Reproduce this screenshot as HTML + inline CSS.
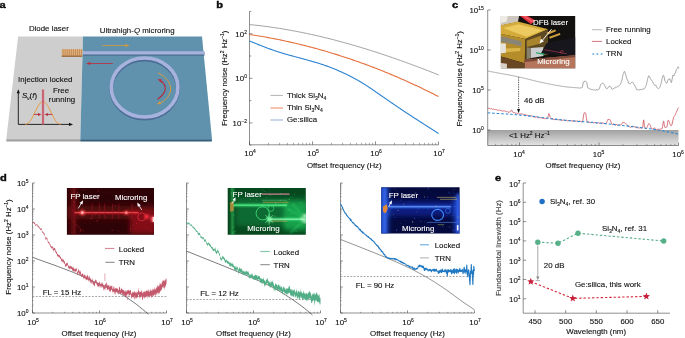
<!DOCTYPE html>
<html><head><meta charset="utf-8"><title>Figure</title>
<style>html,body{margin:0;padding:0;background:#fff;}svg{display:block;}text{font-family:"Liberation Sans",sans-serif;fill:#111;stroke:#111;stroke-width:0.12px;}text.w{fill:#fff;stroke:#fff;}</style>
</head><body>
<svg width="685" height="338" viewBox="0 0 685 338">
<rect width="685" height="338" fill="#fff"/>
<g id="pa">
<polygon points="18.1,36.5 83,36.5 80.3,139.2 6.3,139.2" fill="#cecece"/>
<polygon points="83,36.5 202,36.5 212,139.2 80.3,139.2" fill="#6092ad"/>
<polygon points="6.3,139.2 80.3,139.2 80.3,141.5 6.5,141.5" fill="#9e9e9e"/>
<polygon points="80.3,139.2 212,139.2 211.8,141.5 80.3,141.5" fill="#305e7c"/>
<rect x="83" y="51.8" width="121.5" height="3.8" fill="#44688c"/>
<rect x="83" y="51.2" width="121.5" height="3.3" fill="#a7b3dc"/>
<ellipse cx="144.6" cy="89.1" rx="33.3" ry="29.5" fill="none" stroke="#4c6c96" stroke-width="3.8"/>
<ellipse cx="144.6" cy="87.5" rx="33.3" ry="29.5" fill="none" stroke="#a7b3dc" stroke-width="3.6"/>
<rect x="61.7" y="49.2" width="20.6" height="7.4" fill="#dfae7c"/>
<rect x="62.70" y="49.2" width="0.8" height="6.4" fill="#bf8850"/>
<rect x="64.76" y="49.2" width="0.8" height="6.4" fill="#bf8850"/>
<rect x="66.82" y="49.2" width="0.8" height="6.4" fill="#bf8850"/>
<rect x="68.88" y="49.2" width="0.8" height="6.4" fill="#bf8850"/>
<rect x="70.94" y="49.2" width="0.8" height="6.4" fill="#bf8850"/>
<rect x="73.00" y="49.2" width="0.8" height="6.4" fill="#bf8850"/>
<rect x="75.06" y="49.2" width="0.8" height="6.4" fill="#bf8850"/>
<rect x="77.12" y="49.2" width="0.8" height="6.4" fill="#bf8850"/>
<rect x="79.18" y="49.2" width="0.8" height="6.4" fill="#bf8850"/>
<rect x="81.24" y="49.2" width="0.8" height="6.4" fill="#bf8850"/>
<rect x="61.7" y="55.6" width="20.6" height="1.2" fill="#8f6238"/>
<path d="M102.2 45.5H127" stroke="#d69a3c" stroke-width="0.8" fill="none"/>
<path d="M129.6 45.5l-4.2 -1.5v3z" fill="#d69a3c"/>
<path d="M112.8 63.5H89" stroke="#c22b3b" stroke-width="0.8" fill="none"/>
<path d="M86.2 63.5l4.2 -1.5v3z" fill="#c22b3b"/>
<path d="M158 72.6Q171.5 80 170.6 90Q169.5 98.5 160.5 103" stroke="#d69a3c" stroke-width="1.0" fill="none"/>
<path d="M156.8 104.3l4.4 -0.4l-1.4 -2.6z" fill="#d69a3c"/>
<path d="M157.5 99.2Q166.5 93 165.2 87Q164.2 83 160.4 80.8" stroke="#b8283a" stroke-width="1.1" fill="none"/>
<path d="M157.6 79l4.4 0.6l-1.6 2.6z" fill="#c22b3b"/>
<text transform="translate(28.90,31.30) scale(0.975,1)" font-size="8.1" text-anchor="start" >Diode laser</text>
<text transform="translate(99.70,33.20) scale(0.975,1)" font-size="8.1" text-anchor="start" >Ultrahigh-<tspan font-style="italic">Q</tspan> microring</text>
<text transform="translate(18.10,82.30) scale(0.975,1)" font-size="8.1" text-anchor="start" >Injection locked</text>
<text transform="translate(61.00,93.00) scale(0.975,1)" font-size="8.1" text-anchor="middle" >Free</text>
<text transform="translate(62.00,102.00) scale(0.975,1)" font-size="8.1" text-anchor="middle" >running</text>
<text transform="translate(22.10,98.00) scale(0.975,1)" font-size="8.1" text-anchor="start" ><tspan font-style="italic">S</tspan><tspan dy="1.6" font-size="4.6" font-style="italic">ν</tspan><tspan dy="-1.6">(</tspan><tspan font-style="italic">f</tspan>)</text>
<path d="M18.3 124.4V92M18.3 124.4H70" stroke="#111" stroke-width="0.9" fill="none"/>
<path d="M18.3 89.2l-1.6 4h3.2z" fill="#111"/>
<path d="M73 124.4l-4 -1.7v3.4z" fill="#111"/>
<polyline points="25.20,124.20 25.80,124.17 26.41,124.07 27.01,123.87 27.61,123.57 28.22,123.15 28.82,122.62 29.42,121.99 30.03,121.24 30.63,120.39 31.23,119.45 31.84,118.42 32.44,117.32 33.04,116.15 33.65,114.94 34.25,113.70 34.85,112.45 35.46,111.19 36.06,109.95 36.66,108.74 37.27,107.59 37.87,106.49 38.47,105.48 39.08,104.56 39.68,103.75 40.28,103.06 40.89,102.49 41.49,102.06 42.09,101.77 42.70,101.62 43.30,101.62 43.91,101.77 44.51,102.06 45.11,102.49 45.72,103.06 46.32,103.75 46.92,104.56 47.53,105.48 48.13,106.49 48.73,107.59 49.34,108.74 49.94,109.95 50.54,111.19 51.15,112.45 51.75,113.70 52.35,114.94 52.96,116.15 53.56,117.32 54.16,118.42 54.77,119.45 55.37,120.39 55.97,121.24 56.58,121.99 57.18,122.62 57.78,123.15 58.39,123.57 58.99,123.87 59.59,124.07 60.20,124.17 60.80,124.20" fill="none" stroke="#e8963a" stroke-width="1.0" stroke-linejoin="round" />
<rect x="41.7" y="89.5" width="2.6" height="35" fill="#dd8e9a" opacity="0.7"/>
<rect x="42.5" y="89.5" width="1.0" height="35" fill="#bc2a44"/>
<path d="M34 114.4H39M52.2 114.4H47" stroke="#b42a3c" stroke-width="0.9" fill="none"/>
<path d="M41.4 114.4l-3.4 -1.5v3zM44.5 114.4l3.4 -1.5v3z" fill="#b42a3c"/>
</g>
<g id="pb">
<line x1="249.50" y1="11.40" x2="249.50" y2="144.80" stroke="#444" stroke-width="0.6" />
<line x1="249.50" y1="144.80" x2="438.50" y2="144.80" stroke="#444" stroke-width="0.6" />
<line x1="249.50" y1="144.80" x2="249.50" y2="141.40" stroke="#444" stroke-width="0.6" />
<line x1="268.46" y1="144.80" x2="268.46" y2="142.80" stroke="#444" stroke-width="0.45" />
<line x1="279.56" y1="144.80" x2="279.56" y2="142.80" stroke="#444" stroke-width="0.45" />
<line x1="287.43" y1="144.80" x2="287.43" y2="142.80" stroke="#444" stroke-width="0.45" />
<line x1="293.54" y1="144.80" x2="293.54" y2="142.80" stroke="#444" stroke-width="0.45" />
<line x1="298.52" y1="144.80" x2="298.52" y2="142.80" stroke="#444" stroke-width="0.45" />
<line x1="302.74" y1="144.80" x2="302.74" y2="142.80" stroke="#444" stroke-width="0.45" />
<line x1="306.39" y1="144.80" x2="306.39" y2="142.80" stroke="#444" stroke-width="0.45" />
<line x1="309.62" y1="144.80" x2="309.62" y2="142.80" stroke="#444" stroke-width="0.45" />
<line x1="312.50" y1="144.80" x2="312.50" y2="141.40" stroke="#444" stroke-width="0.6" />
<line x1="331.46" y1="144.80" x2="331.46" y2="142.80" stroke="#444" stroke-width="0.45" />
<line x1="342.56" y1="144.80" x2="342.56" y2="142.80" stroke="#444" stroke-width="0.45" />
<line x1="350.43" y1="144.80" x2="350.43" y2="142.80" stroke="#444" stroke-width="0.45" />
<line x1="356.54" y1="144.80" x2="356.54" y2="142.80" stroke="#444" stroke-width="0.45" />
<line x1="361.52" y1="144.80" x2="361.52" y2="142.80" stroke="#444" stroke-width="0.45" />
<line x1="365.74" y1="144.80" x2="365.74" y2="142.80" stroke="#444" stroke-width="0.45" />
<line x1="369.39" y1="144.80" x2="369.39" y2="142.80" stroke="#444" stroke-width="0.45" />
<line x1="372.62" y1="144.80" x2="372.62" y2="142.80" stroke="#444" stroke-width="0.45" />
<line x1="375.50" y1="144.80" x2="375.50" y2="141.40" stroke="#444" stroke-width="0.6" />
<line x1="394.46" y1="144.80" x2="394.46" y2="142.80" stroke="#444" stroke-width="0.45" />
<line x1="405.56" y1="144.80" x2="405.56" y2="142.80" stroke="#444" stroke-width="0.45" />
<line x1="413.43" y1="144.80" x2="413.43" y2="142.80" stroke="#444" stroke-width="0.45" />
<line x1="419.54" y1="144.80" x2="419.54" y2="142.80" stroke="#444" stroke-width="0.45" />
<line x1="424.52" y1="144.80" x2="424.52" y2="142.80" stroke="#444" stroke-width="0.45" />
<line x1="428.74" y1="144.80" x2="428.74" y2="142.80" stroke="#444" stroke-width="0.45" />
<line x1="432.39" y1="144.80" x2="432.39" y2="142.80" stroke="#444" stroke-width="0.45" />
<line x1="435.62" y1="144.80" x2="435.62" y2="142.80" stroke="#444" stroke-width="0.45" />
<line x1="438.50" y1="144.80" x2="438.50" y2="141.40" stroke="#444" stroke-width="0.6" />
<line x1="249.50" y1="145.20" x2="251.30" y2="145.20" stroke="#444" stroke-width="0.6" />
<line x1="249.50" y1="122.90" x2="252.50" y2="122.90" stroke="#444" stroke-width="0.6" />
<line x1="249.50" y1="100.60" x2="251.30" y2="100.60" stroke="#444" stroke-width="0.6" />
<line x1="249.50" y1="78.30" x2="252.50" y2="78.30" stroke="#444" stroke-width="0.6" />
<line x1="249.50" y1="56.00" x2="251.30" y2="56.00" stroke="#444" stroke-width="0.6" />
<line x1="249.50" y1="33.70" x2="252.50" y2="33.70" stroke="#444" stroke-width="0.6" />
<line x1="249.50" y1="11.40" x2="251.30" y2="11.40" stroke="#444" stroke-width="0.6" />
<text transform="translate(246.90,36.50) scale(0.975,1)" font-size="8.1" text-anchor="end" >10<tspan dy="-3.0" font-size="5.1">2</tspan></text>
<text transform="translate(246.90,81.10) scale(0.975,1)" font-size="8.1" text-anchor="end" >10<tspan dy="-3.0" font-size="5.1">0</tspan></text>
<text transform="translate(246.90,125.70) scale(0.975,1)" font-size="8.1" text-anchor="end" >10<tspan dy="-3.0" font-size="5.1">–2</tspan></text>
<text transform="translate(250.10,155.90) scale(0.975,1)" font-size="8.1" text-anchor="middle" >10<tspan dy="-3.0" font-size="5.1">4</tspan></text>
<text transform="translate(313.10,155.90) scale(0.975,1)" font-size="8.1" text-anchor="middle" >10<tspan dy="-3.0" font-size="5.1">5</tspan></text>
<text transform="translate(376.10,155.90) scale(0.975,1)" font-size="8.1" text-anchor="middle" >10<tspan dy="-3.0" font-size="5.1">6</tspan></text>
<text transform="translate(439.10,155.90) scale(0.975,1)" font-size="8.1" text-anchor="middle" >10<tspan dy="-3.0" font-size="5.1">7</tspan></text>
<text transform="translate(344.30,168.20) scale(0.975,1)" font-size="8.1" text-anchor="middle" >Offset frequency (Hz)</text>
<text transform="translate(226.60,78.30) rotate(-90) scale(0.975,1)" font-size="8.1" text-anchor="middle">Frequency noise (Hz<tspan dy="-3" font-size="5">2</tspan><tspan dy="3"> Hz</tspan><tspan dy="-3" font-size="5">–1</tspan><tspan dy="3">)</tspan></text>
<polyline points="249.50,24.58 251.09,24.73 252.68,24.90 254.26,25.06 255.85,25.23 257.44,25.41 259.03,25.59 260.62,25.78 262.21,25.98 263.79,26.17 265.38,26.38 266.97,26.59 268.56,26.80 270.15,27.02 271.74,27.25 273.32,27.48 274.91,27.71 276.50,27.95 278.09,28.20 279.68,28.45 281.26,28.70 282.85,28.96 284.44,29.23 286.03,29.50 287.62,29.77 289.21,30.05 290.79,30.34 292.38,30.63 293.97,30.93 295.56,31.22 297.15,31.53 298.74,31.84 300.32,32.15 301.91,32.47 303.50,32.80 305.09,33.12 306.68,33.46 308.26,33.79 309.85,34.14 311.44,34.48 313.03,34.83 314.62,35.19 316.21,35.55 317.79,35.91 319.38,36.28 320.97,36.66 322.56,37.04 324.15,37.42 325.74,37.80 327.32,38.20 328.91,38.59 330.50,38.99 332.09,39.40 333.68,39.80 335.26,40.22 336.85,40.63 338.44,41.05 340.03,41.48 341.62,41.91 343.21,42.34 344.79,42.78 346.38,43.22 347.97,43.66 349.56,44.11 351.15,44.57 352.74,45.02 354.32,45.48 355.91,45.95 357.50,46.42 359.09,46.89 360.68,47.37 362.26,47.85 363.85,48.33 365.44,48.82 367.03,49.31 368.62,49.81 370.21,50.31 371.79,50.81 373.38,51.32 374.97,51.82 376.56,52.34 378.15,52.86 379.74,53.38 381.32,53.90 382.91,54.43 384.50,54.96 386.09,55.49 387.68,56.03 389.26,56.57 390.85,57.12 392.44,57.66 394.03,58.22 395.62,58.77 397.21,59.33 398.79,59.89 400.38,60.45 401.97,61.02 403.56,61.59 405.15,62.16 406.74,62.74 408.32,63.32 409.91,63.90 411.50,64.49 413.09,65.08 414.68,65.67 416.26,66.27 417.85,66.86 419.44,67.47 421.03,68.07 422.62,68.68 424.21,69.28 425.79,69.90 427.38,70.51 428.97,71.13 430.56,71.75 432.15,72.37 433.74,73.00 435.32,73.63 436.91,74.26 438.50,74.89" fill="none" stroke="#959595" stroke-width="0.9" stroke-linejoin="round" />
<polyline points="249.50,34.47 251.09,34.71 252.68,34.96 254.26,35.20 255.85,35.46 257.44,35.72 259.03,35.98 260.62,36.25 262.21,36.52 263.79,36.80 265.38,37.08 266.97,37.37 268.56,37.66 270.15,37.95 271.74,38.25 273.32,38.56 274.91,38.87 276.50,39.18 278.09,39.50 279.68,39.83 281.26,40.15 282.85,40.49 284.44,40.83 286.03,41.17 287.62,41.52 289.21,41.87 290.79,42.23 292.38,42.59 293.97,42.95 295.56,43.32 297.15,43.70 298.74,44.08 300.32,44.47 301.91,44.86 303.50,45.25 305.09,45.65 306.68,46.05 308.26,46.46 309.85,46.88 311.44,47.30 313.03,47.72 314.62,48.15 316.21,48.58 317.79,49.02 319.38,49.46 320.97,49.91 322.56,50.36 324.15,50.82 325.74,51.28 327.32,51.74 328.91,52.22 330.50,52.69 332.09,53.17 333.68,53.66 335.26,54.15 336.85,54.64 338.44,55.14 340.03,55.65 341.62,56.16 343.21,56.67 344.79,57.19 346.38,57.72 347.97,58.25 349.56,58.78 351.15,59.32 352.74,59.86 354.32,60.41 355.91,60.96 357.50,61.52 359.09,62.08 360.68,62.65 362.26,63.22 363.85,63.80 365.44,64.38 367.03,64.97 368.62,65.56 370.21,66.16 371.79,66.76 373.38,67.37 374.97,67.98 376.56,68.60 378.15,69.22 379.74,69.85 381.32,70.48 382.91,71.11 384.50,71.76 386.09,72.40 387.68,73.05 389.26,73.71 390.85,74.37 392.44,75.04 394.03,75.71 395.62,76.38 397.21,77.06 398.79,77.75 400.38,78.44 401.97,79.14 403.56,79.84 405.15,80.54 406.74,81.25 408.32,81.97 409.91,82.69 411.50,83.41 413.09,84.14 414.68,84.88 416.26,85.62 417.85,86.36 419.44,87.12 421.03,87.87 422.62,88.63 424.21,89.40 425.79,90.17 427.38,90.94 428.97,91.72 430.56,92.51 432.15,93.30 433.74,94.09 435.32,94.89 436.91,95.70 438.50,96.51" fill="none" stroke="#e4703c" stroke-width="1.1" stroke-linejoin="round" />
<polyline points="249.50,40.99 250.13,41.26 250.76,41.52 251.39,41.79 252.02,42.05 252.65,42.31 253.28,42.57 253.91,42.83 254.54,43.09 255.17,43.35 255.80,43.61 256.43,43.86 257.06,44.11 257.69,44.36 258.32,44.62 258.95,44.87 259.58,45.11 260.21,45.36 260.84,45.61 261.47,45.85 262.10,46.09 262.73,46.34 263.36,46.58 263.99,46.82 264.62,47.05 265.25,47.29 265.88,47.53 266.51,47.76 267.14,48.00 267.77,48.23 268.40,48.46 269.03,48.69 269.66,48.91 270.29,49.14 270.92,49.37 271.55,49.59 272.18,49.81 272.81,50.03 273.44,50.25 274.07,50.47 274.70,50.69 275.33,50.90 275.96,51.11 276.59,51.32 277.22,51.53 277.85,51.74 278.48,51.94 279.11,52.14 279.74,52.34 280.37,52.54 281.00,52.74 281.63,52.93 282.26,53.12 282.89,53.31 283.52,53.50 284.15,53.69 284.78,53.87 285.41,54.06 286.04,54.24 286.67,54.42 287.30,54.59 287.93,54.77 288.56,54.95 289.19,55.12 289.82,55.29 290.45,55.46 291.08,55.64 291.71,55.81 292.34,55.98 292.97,56.15 293.60,56.32 294.23,56.49 294.86,56.66 295.49,56.82 296.12,56.99 296.75,57.16 297.38,57.33 298.01,57.50 298.64,57.67 299.27,57.84 299.90,58.01 300.53,58.19 301.16,58.36 301.79,58.53 302.42,58.70 303.05,58.87 303.68,59.04 304.31,59.22 304.94,59.39 305.57,59.56 306.20,59.74 306.83,59.91 307.46,60.08 308.09,60.26 308.72,60.43 309.35,60.61 309.98,60.79 310.61,60.96 311.24,61.14 311.87,61.32 312.50,61.49 313.13,61.67 313.76,61.85 314.39,62.03 315.02,62.22 315.65,62.40 316.28,62.58 316.91,62.77 317.54,62.96 318.17,63.15 318.80,63.35 319.43,63.54 320.06,63.74 320.69,63.94 321.32,64.15 321.95,64.36 322.58,64.57 323.21,64.78 323.84,65.00 324.47,65.22 325.10,65.44 325.73,65.66 326.36,65.89 326.99,66.12 327.62,66.35 328.25,66.59 328.88,66.83 329.51,67.07 330.14,67.31 330.77,67.55 331.40,67.80 332.03,68.05 332.66,68.30 333.29,68.55 333.92,68.80 334.55,69.06 335.18,69.32 335.81,69.58 336.44,69.85 337.07,70.11 337.70,70.38 338.33,70.65 338.96,70.92 339.59,71.19 340.22,71.47 340.85,71.75 341.48,72.03 342.11,72.31 342.74,72.60 343.37,72.89 344.00,73.18 344.63,73.47 345.26,73.77 345.89,74.07 346.52,74.37 347.15,74.67 347.78,74.98 348.41,75.29 349.04,75.61 349.67,75.92 350.30,76.24 350.93,76.57 351.56,76.89 352.19,77.22 352.82,77.56 353.45,77.89 354.08,78.24 354.71,78.58 355.34,78.93 355.97,79.28 356.60,79.63 357.23,79.99 357.86,80.35 358.49,80.71 359.12,81.07 359.75,81.44 360.38,81.81 361.01,82.19 361.64,82.57 362.27,82.95 362.90,83.33 363.53,83.72 364.16,84.11 364.79,84.51 365.42,84.91 366.05,85.31 366.68,85.71 367.31,86.12 367.94,86.54 368.57,86.95 369.20,87.37 369.83,87.79 370.46,88.22 371.09,88.64 371.72,89.07 372.35,89.51 372.98,89.94 373.61,90.37 374.24,90.81 374.87,91.25 375.50,91.68 376.13,92.12 376.76,92.56 377.39,92.99 378.02,93.43 378.65,93.87 379.28,94.30 379.91,94.74 380.54,95.18 381.17,95.61 381.80,96.05 382.43,96.49 383.06,96.92 383.69,97.36 384.32,97.79 384.95,98.23 385.58,98.66 386.21,99.10 386.84,99.53 387.47,99.97 388.10,100.40 388.73,100.83 389.36,101.27 389.99,101.70 390.62,102.13 391.25,102.56 391.88,103.00 392.51,103.43 393.14,103.86 393.77,104.29 394.40,104.72 395.03,105.15 395.66,105.58 396.29,106.01 396.92,106.44 397.55,106.87 398.18,107.29 398.81,107.72 399.44,108.15 400.07,108.57 400.70,109.00 401.33,109.42 401.96,109.84 402.59,110.26 403.22,110.68 403.85,111.10 404.48,111.52 405.11,111.94 405.74,112.36 406.37,112.77 407.00,113.19 407.63,113.60 408.26,114.01 408.89,114.42 409.52,114.84 410.15,115.25 410.78,115.66 411.41,116.07 412.04,116.48 412.67,116.88 413.30,117.29 413.93,117.70 414.56,118.11 415.19,118.52 415.82,118.92 416.45,119.33 417.08,119.74 417.71,120.14 418.34,120.55 418.97,120.96 419.60,121.36 420.23,121.77 420.86,122.17 421.49,122.58 422.12,122.98 422.75,123.39 423.38,123.79 424.01,124.20 424.64,124.60 425.27,125.01 425.90,125.41 426.53,125.82 427.16,126.22 427.79,126.62 428.42,127.03 429.05,127.43 429.68,127.83 430.31,128.24 430.94,128.64 431.57,129.04 432.20,129.45 432.83,129.85 433.46,130.25 434.09,130.65 434.72,131.06 435.35,131.46 435.98,131.86 436.61,132.26 437.24,132.67 437.87,133.07 438.50,133.47" fill="none" stroke="#2b82d0" stroke-width="1.1" stroke-linejoin="round" />
<line x1="270.50" y1="95.40" x2="283.00" y2="95.40" stroke="#9a9a9a" stroke-width="0.75" />
<text transform="translate(286.90,97.60) scale(0.975,1)" font-size="8.1" text-anchor="start" >Thick Si<tspan dy="2" font-size="5.2">3</tspan><tspan dy="-2">N</tspan><tspan dy="2" font-size="5.2">4</tspan></text>
<line x1="270.50" y1="108.00" x2="283.00" y2="108.00" stroke="#f2ab8c" stroke-width="1.4" />
<text transform="translate(286.90,110.00) scale(0.975,1)" font-size="8.1" text-anchor="start" >Thin Si<tspan dy="2" font-size="5.2">3</tspan><tspan dy="-2">N</tspan><tspan dy="2" font-size="5.2">4</tspan></text>
<line x1="270.50" y1="120.00" x2="283.00" y2="120.00" stroke="#b4c6de" stroke-width="1.4" />
<text transform="translate(286.90,122.30) scale(0.975,1)" font-size="8.1" text-anchor="start" >Ge:silica</text>
</g>
<g id="pc">
<defs><linearGradient id="gb" x1="0" y1="0" x2="0" y2="1"><stop offset="0" stop-color="#a0a0a0"/><stop offset="1" stop-color="#e4e4e4"/></linearGradient></defs>
<rect x="487.7" y="130" width="190.80" height="15.50" fill="url(#gb)"/>
<line x1="487.70" y1="10.00" x2="487.70" y2="145.50" stroke="#444" stroke-width="0.6" />
<line x1="487.70" y1="145.50" x2="678.50" y2="145.50" stroke="#444" stroke-width="0.6" />
<line x1="487.70" y1="10.00" x2="490.70" y2="10.00" stroke="#444" stroke-width="0.6" />
<text transform="translate(483.70,12.80) scale(0.975,1)" font-size="8.1" text-anchor="end" >10<tspan dy="-3.0" font-size="5.1">15</tspan></text>
<line x1="487.70" y1="50.00" x2="490.70" y2="50.00" stroke="#444" stroke-width="0.6" />
<text transform="translate(483.70,52.80) scale(0.975,1)" font-size="8.1" text-anchor="end" >10<tspan dy="-3.0" font-size="5.1">10</tspan></text>
<line x1="487.70" y1="90.00" x2="490.70" y2="90.00" stroke="#444" stroke-width="0.6" />
<text transform="translate(483.70,92.80) scale(0.975,1)" font-size="8.1" text-anchor="end" >10<tspan dy="-3.0" font-size="5.1">5</tspan></text>
<line x1="487.70" y1="130.00" x2="490.70" y2="130.00" stroke="#444" stroke-width="0.6" />
<text transform="translate(483.70,132.80) scale(0.975,1)" font-size="8.1" text-anchor="end" >10<tspan dy="-3.0" font-size="5.1">0</tspan></text>
<line x1="519.50" y1="145.50" x2="519.50" y2="142.50" stroke="#444" stroke-width="0.6" />
<text transform="translate(519.10,156.60) scale(0.975,1)" font-size="8.1" text-anchor="middle" >10<tspan dy="-3.0" font-size="5.1">4</tspan></text>
<line x1="599.00" y1="145.50" x2="599.00" y2="142.50" stroke="#444" stroke-width="0.6" />
<text transform="translate(598.60,156.60) scale(0.975,1)" font-size="8.1" text-anchor="middle" >10<tspan dy="-3.0" font-size="5.1">5</tspan></text>
<line x1="678.50" y1="145.50" x2="678.50" y2="142.50" stroke="#444" stroke-width="0.6" />
<text transform="translate(678.10,156.60) scale(0.975,1)" font-size="8.1" text-anchor="middle" >10<tspan dy="-3.0" font-size="5.1">6</tspan></text>
<line x1="495.57" y1="145.50" x2="495.57" y2="143.90" stroke="#444" stroke-width="0.45" />
<line x1="501.86" y1="145.50" x2="501.86" y2="143.90" stroke="#444" stroke-width="0.45" />
<line x1="507.19" y1="145.50" x2="507.19" y2="143.90" stroke="#444" stroke-width="0.45" />
<line x1="511.80" y1="145.50" x2="511.80" y2="143.90" stroke="#444" stroke-width="0.45" />
<line x1="515.86" y1="145.50" x2="515.86" y2="143.90" stroke="#444" stroke-width="0.45" />
<line x1="543.43" y1="145.50" x2="543.43" y2="143.90" stroke="#444" stroke-width="0.45" />
<line x1="557.43" y1="145.50" x2="557.43" y2="143.90" stroke="#444" stroke-width="0.45" />
<line x1="567.36" y1="145.50" x2="567.36" y2="143.90" stroke="#444" stroke-width="0.45" />
<line x1="575.07" y1="145.50" x2="575.07" y2="143.90" stroke="#444" stroke-width="0.45" />
<line x1="581.36" y1="145.50" x2="581.36" y2="143.90" stroke="#444" stroke-width="0.45" />
<line x1="586.69" y1="145.50" x2="586.69" y2="143.90" stroke="#444" stroke-width="0.45" />
<line x1="591.30" y1="145.50" x2="591.30" y2="143.90" stroke="#444" stroke-width="0.45" />
<line x1="595.36" y1="145.50" x2="595.36" y2="143.90" stroke="#444" stroke-width="0.45" />
<line x1="622.93" y1="145.50" x2="622.93" y2="143.90" stroke="#444" stroke-width="0.45" />
<line x1="636.93" y1="145.50" x2="636.93" y2="143.90" stroke="#444" stroke-width="0.45" />
<line x1="646.86" y1="145.50" x2="646.86" y2="143.90" stroke="#444" stroke-width="0.45" />
<line x1="654.57" y1="145.50" x2="654.57" y2="143.90" stroke="#444" stroke-width="0.45" />
<line x1="660.86" y1="145.50" x2="660.86" y2="143.90" stroke="#444" stroke-width="0.45" />
<line x1="666.19" y1="145.50" x2="666.19" y2="143.90" stroke="#444" stroke-width="0.45" />
<line x1="670.80" y1="145.50" x2="670.80" y2="143.90" stroke="#444" stroke-width="0.45" />
<line x1="674.86" y1="145.50" x2="674.86" y2="143.90" stroke="#444" stroke-width="0.45" />
<text transform="translate(583.00,168.20) scale(0.975,1)" font-size="8.1" text-anchor="middle" >Offset frequency (Hz)</text>
<text transform="translate(462.00,78.80) rotate(-90) scale(0.975,1)" font-size="8.1" text-anchor="middle">Frequency noise (Hz<tspan dy="-3" font-size="5">2</tspan><tspan dy="3"> Hz</tspan><tspan dy="-3" font-size="5">–1</tspan><tspan dy="3">)</tspan></text>
<text transform="translate(529.40,138.30) scale(0.975,1)" font-size="8.1" text-anchor="middle" >&lt;1 Hz<tspan dy="-3" font-size="5">2</tspan><tspan dy="3"> Hz</tspan><tspan dy="-3" font-size="5">–1</tspan></text>
<polyline points="487.70,71.05 487.91,71.10 488.13,71.14 488.34,71.18 488.55,71.22 488.76,71.26 488.98,71.30 489.19,71.34 489.40,71.37 489.61,71.41 489.83,71.45 490.04,71.49 490.25,71.53 490.46,71.57 490.68,71.61 490.89,71.65 491.10,71.69 491.31,71.73 491.53,71.77 491.74,71.81 491.95,71.85 492.16,71.89 492.38,71.93 492.59,71.97 492.80,72.00 493.01,72.04 493.23,72.08 493.44,72.12 493.65,72.16 493.86,72.20 494.08,72.24 494.29,72.28 494.50,72.32 494.71,72.35 494.93,72.39 495.14,72.43 495.35,72.47 495.56,72.51 495.78,72.55 495.99,72.59 496.20,72.63 496.41,72.66 496.63,72.70 496.84,72.74 497.05,72.78 497.26,72.82 497.48,72.86 497.69,72.90 497.90,72.93 498.11,72.97 498.33,73.01 498.54,73.05 498.75,73.09 498.96,73.13 499.18,73.17 499.39,73.21 499.60,73.24 499.81,73.28 500.03,73.32 500.24,73.36 500.45,73.40 500.66,73.44 500.88,73.48 501.09,73.51 501.30,73.55 501.51,73.59 501.73,73.63 501.94,73.67 502.15,73.71 502.36,73.75 502.58,73.79 502.79,73.83 503.00,73.86 503.21,73.90 503.43,73.94 503.64,73.98 503.85,74.02 504.06,74.06 504.28,74.10 504.49,74.14 504.70,74.18 504.91,74.22 505.13,74.26 505.34,74.29 505.55,74.33 505.76,74.37 505.98,74.41 506.19,74.45 506.40,74.49 506.61,74.53 506.83,74.57 507.04,74.61 507.25,74.65 507.46,74.69 507.68,74.73 507.89,74.77 508.10,74.81 508.31,74.85 508.53,74.89 508.74,74.93 508.95,74.97 509.16,75.01 509.38,75.05 509.59,75.09 509.80,75.13 510.01,75.17 510.23,75.22 510.44,75.26 510.65,75.30 510.86,75.34 511.08,75.38 511.29,75.42 511.50,75.46 511.71,75.50 511.93,75.54 512.14,75.59 512.35,75.63 512.56,75.67 512.78,75.71 512.99,75.75 513.20,75.79 513.41,75.84 513.63,75.88 513.84,75.92 514.05,75.96 514.26,76.01 514.48,76.05 514.69,76.09 514.90,76.13 515.11,76.18 515.33,76.22 515.54,76.26 515.75,76.30 515.96,76.35 516.18,76.39 516.39,76.43 516.60,76.48 516.81,76.52 517.03,76.57 517.24,76.61 517.45,76.65 517.66,76.70 517.88,76.74 518.09,76.79 518.30,76.83 518.51,76.88 518.73,76.92 518.94,76.97 519.15,77.01 519.36,77.06 519.58,77.10 519.79,77.15 520.00,77.20 520.21,77.24 520.43,77.29 520.64,77.34 520.85,77.39 521.06,77.43 521.28,77.48 521.49,77.53 521.70,77.58 521.91,77.63 522.13,77.68 522.34,77.73 522.55,77.78 522.76,77.83 522.98,77.88 523.19,77.93 523.40,77.98 523.61,78.03 523.83,78.08 524.04,78.13 524.25,78.19 524.46,78.24 524.68,78.29 524.89,78.34 525.10,78.39 525.31,78.45 525.53,78.50 525.74,78.55 525.95,78.60 526.16,78.66 526.38,78.71 526.59,78.76 526.80,78.82 527.01,78.87 527.23,78.92 527.44,78.98 527.65,79.03 527.86,79.08 528.08,79.14 528.29,79.19 528.50,79.24 528.71,79.30 528.93,79.35 529.14,79.41 529.35,79.46 529.56,79.51 529.78,79.57 529.99,79.62 530.20,79.68 530.41,79.73 530.63,79.78 530.84,79.84 531.05,79.89 531.26,79.95 531.48,80.00 531.69,80.06 531.90,80.11 532.11,80.16 532.33,80.22 532.54,80.27 532.75,80.32 532.96,80.38 533.18,80.43 533.39,80.49 533.60,80.54 533.81,80.59 534.03,80.65 534.24,80.70 534.45,80.75 534.66,80.81 534.88,80.86 535.09,80.91 535.30,80.96 535.51,81.02 535.73,81.07 535.94,81.12 536.15,81.17 536.36,81.22 536.58,81.28 536.79,81.33 537.00,81.38 537.21,81.43 537.43,81.48 537.64,81.53 537.85,81.58 538.06,81.63 538.28,81.68 538.49,81.73 538.70,81.78 538.91,81.83 539.13,81.88 539.34,81.93 539.55,81.98 539.76,82.03 539.98,82.08 540.19,82.12 540.40,82.17 540.61,82.22 540.83,82.27 541.04,82.31 541.25,82.36 541.46,82.40 541.68,82.45 541.89,82.50 542.10,82.54 542.31,82.59 542.53,82.63 542.74,82.67 542.95,82.72 543.16,82.76 543.38,82.81 543.59,82.85 543.80,82.89 544.01,82.93 544.23,82.98 544.44,83.02 544.65,83.06 544.86,83.11 545.08,83.15 545.29,83.19 545.50,83.24 545.71,83.28 545.93,83.32 546.14,83.36 546.35,83.41 546.56,83.45 546.78,83.49 546.99,83.54 547.20,83.58 547.41,83.62 547.63,83.66 547.84,83.71 548.05,83.75 548.26,83.79 548.48,83.83 548.69,83.88 548.90,83.92 549.11,83.96 549.33,84.00 549.54,84.05 549.75,84.09 549.96,84.13 550.18,84.17 550.39,84.21 550.60,84.26 550.81,84.30 551.03,84.34 551.24,84.38 551.45,84.42 551.66,84.46 551.88,84.50 552.09,84.55 552.30,84.59 552.51,84.63 552.73,84.67 552.94,84.71 553.15,84.75 553.36,84.79 553.58,84.83 553.79,84.87 554.00,84.91 554.21,84.95 554.43,84.99 554.64,85.03 554.85,85.07 555.06,85.11 555.28,85.14 555.49,85.18 555.70,85.22 555.91,85.26 556.13,85.30 556.34,85.34 556.55,85.37 556.76,85.41 556.98,85.45 557.19,85.49 557.40,85.52 557.61,85.56 557.83,85.60 558.04,85.63 558.25,85.67 558.46,85.71 558.68,85.74 558.89,85.78 559.10,85.81 559.31,85.85 559.53,85.88 559.74,85.92 559.95,85.95 560.16,85.98 560.38,86.02 560.59,86.05 560.80,86.09 561.01,86.12 561.23,86.15 561.44,86.18 561.65,86.22 561.86,86.25 562.08,86.28 562.29,86.31 562.50,86.34 562.71,86.37 562.93,86.40 563.14,86.44 563.35,86.47 563.56,86.50 563.78,86.52 563.99,86.55 564.20,86.58 564.41,86.61 564.63,86.64 564.84,86.67 565.05,86.69 565.26,86.72 565.48,86.75 565.69,86.78 565.90,86.80 566.11,86.83 566.33,86.85 566.54,86.88 566.75,86.90 566.96,86.93 567.18,86.95 567.39,86.98 567.60,87.00 567.81,87.02 568.03,87.04 568.24,87.06 568.45,87.09 568.66,87.11 568.88,87.13 569.09,87.15 569.30,87.17 569.51,87.19 569.73,87.21 569.94,87.22 570.15,87.24 570.36,87.26 570.58,87.28 570.79,87.30 571.00,87.31 571.21,87.33 571.43,87.35 571.64,87.37 571.85,87.38 572.06,87.40 572.28,87.42 572.49,87.43 572.70,87.45 572.91,87.46 573.13,87.48 573.34,87.50 573.55,87.51 573.76,87.53 573.98,87.54 574.19,87.56 574.40,87.58 574.61,87.59 574.83,87.61 575.04,87.62 575.25,87.64 575.46,87.66 575.68,87.68 575.89,87.70 576.10,87.71 576.31,87.73 576.53,87.75 576.74,87.77 576.95,87.79 577.16,87.81 577.38,87.83 577.59,87.84 577.80,87.86 578.01,87.87 578.23,87.89 578.44,87.90 578.65,87.91 578.86,87.92 579.08,87.93 579.29,87.95 579.50,88.10 579.71,88.05 579.93,87.96 580.14,87.96 580.35,87.92 580.56,88.02 580.78,87.86 580.99,87.72 581.20,87.72 581.41,87.95 581.63,87.82 581.84,87.70 582.05,87.31 582.26,87.38 582.48,86.77 582.69,85.86 582.90,84.19 583.11,82.94 583.33,82.01 583.54,82.04 583.75,81.77 583.96,81.58 584.18,81.47 584.39,81.62 584.60,81.25 584.81,81.07 585.03,80.87 585.24,81.23 585.45,81.30 585.66,81.21 585.88,81.24 586.09,81.53 586.30,82.00 586.51,82.33 586.73,82.56 586.94,83.34 587.15,84.48 587.36,85.87 587.58,86.93 587.79,87.55 588.00,87.73 588.21,87.77 588.43,88.12 588.64,88.40 588.85,88.55 589.06,88.64 589.28,88.51 589.49,88.89 589.70,89.05 589.91,89.24 590.13,89.31 590.34,89.23 590.55,89.25 590.76,89.13 590.98,89.21 591.19,89.29 591.40,89.42 591.61,89.41 591.83,89.58 592.04,89.72 592.25,89.77 592.46,89.56 592.68,89.56 592.89,89.79 593.10,89.97 593.31,89.77 593.53,89.71 593.74,89.94 593.95,89.90 594.16,89.95 594.38,89.77 594.59,89.91 594.80,89.94 595.01,89.85 595.23,90.01 595.44,90.13 595.65,90.32 595.86,90.20 596.08,89.85 596.29,89.70 596.50,89.59 596.71,90.00 596.93,90.13 597.14,90.22 597.35,89.89 597.56,89.79 597.78,89.82 597.99,89.71 598.20,89.87 598.41,89.63 598.63,89.46 598.84,89.06 599.05,89.06 599.26,88.98 599.48,88.40 599.69,87.66 599.90,86.86 600.12,86.33 600.33,85.73 600.54,85.12 600.75,84.59 600.97,84.32 601.18,84.04 601.39,84.10 601.60,83.87 601.82,83.69 602.03,83.34 602.24,83.16 602.45,83.19 602.67,83.32 602.88,83.26 603.09,83.18 603.30,83.27 603.52,83.63 603.73,84.10 603.94,84.38 604.15,84.65 604.37,84.99 604.58,85.15 604.79,85.61 605.00,85.94 605.22,86.46 605.43,87.07 605.64,87.74 605.85,88.06 606.07,88.16 606.28,88.26 606.49,88.59 606.70,88.58 606.92,88.41 607.13,87.98 607.34,88.19 607.55,88.10 607.77,88.20 607.98,87.81 608.19,87.65 608.40,87.35 608.62,86.95 608.83,86.65 609.04,86.35 609.25,86.36 609.47,86.10 609.68,86.04 609.89,86.09 610.10,86.51 610.32,86.83 610.53,86.94 610.74,87.06 610.95,87.26 611.17,87.81 611.38,88.21 611.59,88.73 611.80,88.85 612.02,88.92 612.23,89.01 612.44,89.16 612.65,89.26 612.87,89.06 613.08,88.92 613.29,88.72 613.50,88.71 613.72,88.38 613.93,88.19 614.14,88.05 614.35,88.04 614.57,88.25 614.78,88.04 614.99,87.89 615.20,87.43 615.42,87.15 615.63,86.85 615.84,86.94 616.05,86.93 616.27,87.17 616.48,87.19 616.69,87.20 616.90,87.16 617.12,86.92 617.33,86.97 617.54,86.64 617.75,86.61 617.97,86.26 618.18,86.24 618.39,85.97 618.60,85.94 618.82,85.82 619.03,85.76 619.24,85.61 619.45,85.46 619.67,85.35 619.88,85.00 620.09,84.74 620.30,84.40 620.52,84.06 620.73,83.55 620.94,82.77 621.15,82.43 621.37,81.72 621.58,81.20 621.79,80.50 622.00,79.80 622.22,78.98 622.43,77.70 622.64,76.58 622.85,75.34 623.07,74.57 623.28,74.08 623.49,73.61 623.70,73.10 623.92,72.30 624.13,71.74 624.34,71.33 624.55,71.50 624.77,71.92 624.98,72.46 625.19,73.11 625.40,73.75 625.62,74.44 625.83,75.14 626.04,75.74 626.25,76.46 626.47,77.21 626.68,78.00 626.89,78.73 627.10,79.07 627.32,79.82 627.53,80.03 627.74,80.54 627.95,80.76 628.17,81.77 628.38,82.48 628.59,83.06 628.80,83.14 629.02,83.50 629.23,83.80 629.44,84.03 629.65,83.84 629.87,83.63 630.08,83.60 630.29,83.62 630.50,83.53 630.72,83.26 630.93,82.81 631.14,82.63 631.35,82.39 631.57,82.46 631.78,82.37 631.99,82.29 632.20,82.07 632.42,82.08 632.63,82.24 632.84,82.48 633.05,82.34 633.27,82.69 633.48,83.27 633.69,84.15 633.90,84.41 634.12,84.60 634.33,84.76 634.54,85.29 634.75,85.58 634.97,85.99 635.18,86.16 635.39,86.75 635.60,87.10 635.82,87.81 636.03,88.28 636.24,88.94 636.45,89.37 636.67,89.81 636.88,89.71 637.09,89.76 637.30,89.69 637.52,89.86 637.73,89.90 637.94,89.86 638.15,90.05 638.37,89.81 638.58,89.69 638.79,89.68 639.00,90.00 639.22,90.18 639.43,90.14 639.64,89.83 639.85,89.59 640.07,89.44 640.28,89.66 640.49,89.58 640.70,89.52 640.92,89.10 641.13,89.30 641.34,89.43 641.55,89.47 641.77,89.37 641.98,89.38 642.19,89.48 642.40,89.33 642.62,88.98 642.83,88.70 643.04,88.89 643.25,88.90 643.47,89.20 643.68,89.15 643.89,89.10 644.10,88.85 644.32,88.71 644.53,88.59 644.74,88.41 644.95,87.81 645.17,87.54 645.38,87.04 645.59,86.51 645.80,85.78 646.02,85.29 646.23,85.11 646.44,84.41 646.65,83.41 646.87,82.47 647.08,81.53 647.29,80.67 647.50,79.43 647.72,78.55 647.93,77.97 648.14,77.29 648.35,76.66 648.57,75.90 648.78,75.83 648.99,75.83 649.20,76.18 649.42,76.40 649.63,76.96 649.84,77.28 650.05,77.79 650.27,78.35 650.48,78.87 650.69,79.12 650.90,79.20 651.12,79.60 651.33,79.97 651.54,80.34 651.75,80.51 651.97,80.54 652.18,80.85 652.39,81.13 652.60,81.65 652.82,82.05 653.03,82.66 653.24,83.23 653.45,83.62 653.67,84.09 653.88,84.42 654.09,84.85 654.30,84.91 654.52,85.25 654.73,85.38 654.94,85.46 655.15,85.25 655.37,85.07 655.58,85.07 655.79,85.20 656.00,85.63 656.22,86.09 656.43,86.57 656.64,87.03 656.85,87.33 657.07,87.59 657.28,87.85 657.49,88.08 657.70,88.27 657.92,88.16 658.13,88.32 658.34,88.47 658.55,88.67 658.77,88.49 658.98,88.21 659.19,87.96 659.40,87.76 659.62,87.55 659.83,87.24 660.04,86.74 660.25,86.24 660.47,85.63 660.68,84.89 660.89,84.20 661.10,83.46 661.32,82.71 661.53,81.59 661.74,80.46 661.95,79.26 662.17,78.52 662.38,77.52 662.59,76.79 662.80,75.90 663.02,75.65 663.23,75.36 663.44,75.31 663.65,75.46 663.87,76.05 664.08,76.97 664.29,77.93 664.50,78.97 664.72,80.00 664.93,80.75 665.14,81.26 665.35,81.48 665.57,81.74 665.78,82.06 665.99,82.59 666.20,83.02 666.42,83.30 666.63,83.19 666.84,82.93 667.05,82.52 667.27,82.27 667.48,81.46 667.69,80.53 667.90,79.77 668.12,79.52 668.33,79.50 668.54,79.53 668.75,79.64 668.97,79.74 669.18,79.56 669.39,79.15 669.60,78.84 669.82,78.77 670.03,79.48 670.24,80.31 670.45,81.07 670.67,81.43 670.88,81.80 671.09,82.24 671.30,82.67 671.52,82.23 671.73,81.27 671.94,79.81 672.15,78.98 672.37,77.92 672.58,76.68 672.79,75.43 673.00,75.04 673.22,75.19 673.43,75.54 673.64,75.81 673.85,76.05 674.07,75.54 674.28,74.64 674.49,73.68 674.70,73.45 674.92,73.41 675.13,73.35 675.34,73.06 675.55,72.73 675.77,71.85 675.98,70.93 676.19,69.97 676.40,69.77 676.62,69.47 676.83,69.28 677.04,68.79 677.25,68.49 677.47,67.97 677.68,67.40 677.89,67.00 678.10,66.71 678.32,66.93 678.53,67.74 678.74,68.51" fill="none" stroke="#858585" stroke-width="0.75" stroke-linejoin="round" />
<polyline points="487.70,108.05 487.94,108.01 488.18,108.08 488.42,108.27 488.66,108.49 488.89,108.61 489.13,108.53 489.37,108.31 489.61,108.32 489.85,108.57 490.09,108.91 490.33,108.90 490.57,108.86 490.80,108.73 491.04,108.79 491.28,108.59 491.52,108.64 491.76,108.70 492.00,108.87 492.24,109.04 492.48,109.28 492.71,109.50 492.95,109.41 493.19,109.15 493.43,108.96 493.67,108.93 493.91,109.06 494.15,109.22 494.39,109.40 494.63,109.46 494.86,109.47 495.10,109.48 495.34,109.41 495.58,109.63 495.82,109.81 496.06,109.83 496.30,109.57 496.54,109.42 496.77,109.57 497.01,109.86 497.25,110.09 497.49,110.26 497.73,110.28 497.97,110.33 498.21,110.33 498.45,110.30 498.68,110.20 498.92,109.95 499.16,109.92 499.40,110.19 499.64,110.37 499.88,110.35 500.12,110.30 500.36,110.42 500.60,110.48 500.83,110.58 501.07,110.69 501.31,110.87 501.55,110.67 501.79,110.69 502.03,110.69 502.27,110.89 502.51,111.01 502.74,111.13 502.98,111.11 503.22,111.09 503.46,110.87 503.70,110.97 503.94,111.01 504.18,111.14 504.42,111.01 504.65,110.97 504.89,110.91 505.13,111.09 505.37,111.17 505.61,111.24 505.85,111.25 506.09,111.38 506.33,111.66 506.57,111.81 506.80,111.71 507.04,111.59 507.28,111.47 507.52,111.60 507.76,111.95 508.00,112.20 508.24,112.36 508.48,112.29 508.71,111.98 508.95,111.81 509.19,111.64 509.43,112.00 509.67,112.24 509.91,112.18 510.15,111.94 510.39,111.61 510.62,111.31 510.86,110.82 511.10,110.27 511.34,110.14 511.58,110.05 511.82,110.47 512.06,110.79 512.30,111.49 512.54,112.02 512.77,112.30 513.01,112.38 513.25,112.41 513.49,112.46 513.73,112.54 513.97,112.53 514.21,112.71 514.45,112.70 514.68,112.71 514.92,112.80 515.16,113.14 515.40,113.00 515.64,113.13 515.88,113.12 516.12,113.26 516.36,112.98 516.59,112.97 516.83,113.09 517.07,113.32 517.31,113.42 517.55,113.46 517.79,113.51 518.03,113.51 518.27,113.70 518.51,113.93 518.74,114.11 518.98,114.08 519.22,113.89 519.46,114.01 519.70,114.11 519.94,114.23 520.18,113.87 520.42,113.93 520.65,113.84 520.89,113.96 521.13,113.76 521.37,113.83 521.61,113.94 521.85,113.97 522.09,113.97 522.33,114.00 522.56,114.08 522.80,114.08 523.04,114.04 523.28,114.08 523.52,114.34 523.76,114.37 524.00,114.67 524.24,114.76 524.47,114.78 524.71,114.75 524.95,114.63 525.19,114.69 525.43,114.69 525.67,114.77 525.91,115.04 526.15,115.24 526.39,115.19 526.62,115.11 526.86,115.11 527.10,115.42 527.34,115.23 527.58,115.37 527.82,115.26 528.06,115.77 528.30,115.63 528.53,115.60 528.77,115.48 529.01,115.71 529.25,115.86 529.49,115.63 529.73,115.62 529.97,115.48 530.21,115.69 530.44,115.53 530.68,115.55 530.92,115.57 531.16,115.63 531.40,115.83 531.64,116.01 531.88,116.14 532.12,116.08 532.36,116.12 532.59,116.32 532.83,116.65 533.07,116.73 533.31,116.74 533.55,116.78 533.79,116.97 534.03,117.14 534.27,117.05 534.50,116.90 534.74,116.92 534.98,117.19 535.22,117.44 535.46,117.04 535.70,116.88 535.94,116.36 536.18,116.77 536.41,116.84 536.65,117.27 536.89,117.21 537.13,117.40 537.37,117.40 537.61,117.58 537.85,117.53 538.09,117.65 538.33,117.62 538.56,117.61 538.80,117.48 539.04,117.55 539.28,117.66 539.52,117.81 539.76,117.85 540.00,117.91 540.24,117.81 540.47,117.75 540.71,117.62 540.95,117.70 541.19,117.79 541.43,117.78 541.67,117.87 541.91,117.89 542.15,118.06 542.38,118.18 542.62,118.45 542.86,118.38 543.10,118.40 543.34,118.03 543.58,118.17 543.82,118.31 544.06,118.62 544.30,118.52 544.53,118.38 544.77,118.41 545.01,118.50 545.25,118.67 545.49,118.44 545.73,118.64 545.97,118.67 546.21,118.86 546.44,118.63 546.68,118.49 546.92,118.41 547.16,118.43 547.40,118.23 547.64,117.80 547.88,117.21 548.12,116.59 548.35,115.45 548.59,114.40 548.83,113.51 549.07,113.74 549.31,114.16 549.55,115.07 549.79,115.91 550.03,116.81 550.27,117.30 550.50,117.83 550.74,118.28 550.98,118.69 551.22,118.79 551.46,118.98 551.70,118.86 551.94,119.15 552.18,118.76 552.41,118.90 552.65,118.64 552.89,119.12 553.13,119.04 553.37,119.42 553.61,119.17 553.85,119.60 554.09,119.46 554.32,119.67 554.56,119.51 554.80,119.73 555.04,119.86 555.28,119.57 555.52,119.47 555.76,119.42 556.00,119.51 556.24,119.48 556.47,119.34 556.71,119.57 556.95,119.53 557.19,119.62 557.43,119.69 557.67,119.57 557.91,119.69 558.15,119.57 558.38,119.69 558.62,119.91 558.86,120.01 559.10,119.93 559.34,119.71 559.58,119.63 559.82,119.78 560.06,119.83 560.29,119.95 560.53,119.98 560.77,119.92 561.01,119.98 561.25,120.11 561.49,120.12 561.73,120.08 561.97,119.99 562.21,120.23 562.44,120.38 562.68,120.31 562.92,120.19 563.16,119.91 563.40,119.90 563.64,119.92 563.88,120.18 564.12,120.43 564.35,120.41 564.59,120.20 564.83,120.15 565.07,120.19 565.31,120.41 565.55,120.41 565.79,120.53 566.03,120.58 566.26,120.67 566.50,120.56 566.74,120.62 566.98,120.48 567.22,120.56 567.46,120.68 567.70,120.80 567.94,120.67 568.18,120.65 568.41,120.74 568.65,121.03 568.89,120.90 569.13,120.84 569.37,120.70 569.61,120.62 569.85,120.77 570.09,120.78 570.32,120.82 570.56,120.61 570.80,120.89 571.04,121.07 571.28,121.10 571.52,120.89 571.76,120.87 572.00,121.03 572.23,120.87 572.47,120.93 572.71,120.83 572.95,120.95 573.19,120.82 573.43,120.96 573.67,121.26 573.91,121.34 574.15,121.34 574.38,121.06 574.62,121.12 574.86,121.17 575.10,121.11 575.34,121.01 575.58,121.02 575.82,121.01 576.06,121.05 576.29,121.04 576.53,121.07 576.77,121.09 577.01,121.05 577.25,121.37 577.49,121.28 577.73,121.43 577.97,121.38 578.20,121.69 578.44,121.71 578.68,121.74 578.92,121.67 579.16,121.35 579.40,121.18 579.64,121.02 579.88,121.21 580.12,121.49 580.35,121.42 580.59,121.45 580.83,121.20 581.07,121.25 581.31,121.48 581.55,121.67 581.79,122.06 582.03,122.03 582.26,121.86 582.50,121.21 582.74,120.71 582.98,119.66 583.22,118.16 583.46,116.24 583.70,114.74 583.94,113.65 584.17,112.87 584.41,112.60 584.65,112.63 584.89,112.77 585.13,112.75 585.37,112.86 585.61,113.27 585.85,114.22 586.08,115.73 586.32,117.35 586.56,119.07 586.80,120.29 587.04,121.47 587.28,121.81 587.52,122.16 587.76,121.94 588.00,122.17 588.23,122.26 588.47,122.19 588.71,122.14 588.95,121.87 589.19,122.25 589.43,122.24 589.67,122.28 589.91,122.05 590.14,122.28 590.38,122.65 590.62,122.90 590.86,122.68 591.10,122.51 591.34,122.57 591.58,122.59 591.82,122.59 592.05,122.31 592.29,122.28 592.53,122.48 592.77,122.68 593.01,122.89 593.25,122.83 593.49,122.90 593.73,123.04 593.97,122.99 594.20,122.85 594.44,122.57 594.68,122.72 594.92,122.72 595.16,122.68 595.40,122.55 595.64,122.63 595.88,122.92 596.11,123.09 596.35,123.02 596.59,122.85 596.83,122.71 597.07,122.68 597.31,122.78 597.55,122.89 597.79,123.05 598.02,122.90 598.26,122.73 598.50,122.89 598.74,122.98 598.98,123.23 599.22,123.17 599.46,123.27 599.70,123.09 599.94,123.06 600.17,123.01 600.41,123.13 600.65,123.14 600.89,123.18 601.13,123.19 601.37,123.17 601.61,123.13 601.85,123.15 602.08,123.14 602.32,123.09 602.56,123.09 602.80,123.16 603.04,123.32 603.28,123.14 603.52,123.29 603.76,123.46 603.99,123.80 604.23,123.77 604.47,123.56 604.71,123.52 604.95,123.40 605.19,123.81 605.43,123.74 605.67,123.89 605.91,123.36 606.14,123.09 606.38,122.64 606.62,122.46 606.86,122.10 607.10,121.56 607.34,120.61 607.58,120.09 607.82,119.47 608.05,119.54 608.29,119.42 608.53,119.54 608.77,119.46 609.01,119.11 609.25,119.36 609.49,119.36 609.73,119.79 609.96,119.67 610.20,120.03 610.44,120.30 610.68,120.97 610.92,121.64 611.16,122.45 611.40,123.23 611.64,123.76 611.88,124.13 612.11,124.22 612.35,124.55 612.59,124.53 612.83,124.66 613.07,124.13 613.31,123.98 613.55,123.75 613.79,123.85 614.02,124.25 614.26,124.55 614.50,124.53 614.74,124.25 614.98,124.13 615.22,124.69 615.46,125.08 615.70,125.22 615.93,124.92 616.17,124.73 616.41,124.42 616.65,124.44 616.89,124.62 617.13,125.06 617.37,125.12 617.61,125.11 617.85,125.23 618.08,125.43 618.32,125.39 618.56,125.28 618.80,125.32 619.04,125.35 619.28,125.18 619.52,125.02 619.76,124.94 619.99,124.83 620.23,124.91 620.47,124.84 620.71,124.84 620.95,124.71 621.19,124.56 621.43,124.36 621.67,123.92 621.90,123.47 622.14,123.34 622.38,123.02 622.62,122.80 622.86,122.31 623.10,122.33 623.34,122.41 623.58,122.64 623.82,122.63 624.05,122.44 624.29,122.44 624.53,122.69 624.77,123.04 625.01,123.16 625.25,123.30 625.49,123.68 625.73,123.92 625.96,123.93 626.20,123.95 626.44,124.19 626.68,124.39 626.92,124.79 627.16,124.96 627.40,125.45 627.64,125.59 627.87,125.84 628.11,126.14 628.35,126.21 628.59,126.31 628.83,126.28 629.07,126.55 629.31,126.72 629.55,126.66 629.79,126.71 630.02,126.84 630.26,127.26 630.50,127.20 630.74,127.19 630.98,126.92 631.22,126.80 631.46,126.79 631.70,126.92 631.93,126.90 632.17,126.67 632.41,126.23 632.65,126.27 632.89,126.09 633.13,126.22 633.37,126.03 633.61,126.31 633.84,126.44 634.08,126.54 634.32,126.77 634.56,127.08 634.80,127.22 635.04,127.25 635.28,127.19 635.52,127.34 635.76,127.36 635.99,127.21 636.23,127.39 636.47,127.58 636.71,127.69 636.95,127.68 637.19,127.73 637.43,127.92 637.67,127.89 637.90,127.64 638.14,127.67 638.38,127.74 638.62,127.95 638.86,127.78 639.10,127.94 639.34,127.85 639.58,128.12 639.81,127.94 640.05,127.86 640.29,127.74 640.53,127.74 640.77,127.87 641.01,128.03 641.25,128.29 641.49,128.38 641.73,128.26 641.96,128.07 642.20,128.04 642.44,127.94 642.68,127.20 642.92,125.59 643.16,123.05 643.40,120.69 643.64,119.84 643.87,120.98 644.11,123.24 644.35,125.16 644.59,126.70 644.83,127.54 645.07,127.99 645.31,128.46 645.55,128.31 645.78,128.55 646.02,128.47 646.26,128.48 646.50,128.23 646.74,128.03 646.98,127.81 647.22,127.31 647.46,126.43 647.69,125.91 647.93,125.08 648.17,124.74 648.41,124.15 648.65,123.76 648.89,123.63 649.13,123.69 649.37,124.00 649.61,124.38 649.84,124.58 650.08,124.99 650.32,125.37 650.56,126.17 650.80,127.28 651.04,127.92 651.28,128.26 651.52,128.15 651.75,128.50 651.99,128.80 652.23,128.82 652.47,128.93 652.71,128.92 652.95,129.17 653.19,128.80 653.43,128.53 653.66,128.35 653.90,128.15 654.14,128.14 654.38,127.92 654.62,128.07 654.86,128.14 655.10,128.32 655.34,128.62 655.58,128.79 655.81,128.96 656.05,129.39 656.29,129.66 656.53,129.78 656.77,129.51 657.01,129.30 657.25,129.26 657.49,129.20 657.72,129.40 657.96,129.27 658.20,129.02 658.44,128.85 658.68,129.04 658.92,129.60 659.16,129.78 659.40,129.58 659.63,129.25 659.87,129.00 660.11,129.06 660.35,128.95 660.59,128.82 660.83,128.85 661.07,128.93 661.31,129.03 661.55,128.91 661.78,128.94 662.02,128.63 662.26,127.95 662.50,126.86 662.74,125.32 662.98,123.90 663.22,122.26 663.46,121.41 663.69,121.22 663.93,122.49 664.17,124.12 664.41,125.83 664.65,126.83 664.89,127.38 665.13,127.63 665.37,127.53 665.60,127.48 665.84,127.22 666.08,127.16 666.32,127.32 666.56,127.19 666.80,127.14 667.04,126.37 667.28,125.10 667.52,123.18 667.75,121.69 667.99,120.65 668.23,120.23 668.47,120.07 668.71,120.51 668.95,121.15 669.19,121.87 669.43,122.57 669.66,123.16 669.90,123.92 670.14,124.39 670.38,125.17 670.62,125.44 670.86,125.70 671.10,125.60 671.34,125.52 671.57,125.41 671.81,125.04 672.05,124.21 672.29,123.04 672.53,121.88 672.77,120.89 673.01,119.97 673.25,118.84 673.49,117.90 673.72,117.14 673.96,116.72 674.20,116.15 674.44,115.82 674.68,115.64 674.92,115.44 675.16,115.22 675.40,114.48 675.63,113.85 675.87,113.16 676.11,112.76 676.35,112.23 676.59,111.75 676.83,111.02 677.07,110.60 677.31,110.01 677.54,109.39 677.78,108.79 678.02,108.19 678.26,108.04 678.50,107.69" fill="none" stroke="#c8424e" stroke-width="0.75" stroke-linejoin="round" />
<polyline points="487.70,112.80 489.63,112.93 491.55,113.06 493.48,113.19 495.41,113.31 497.34,113.43 499.26,113.55 501.19,113.68 503.12,113.80 505.05,113.93 506.97,114.05 508.90,114.19 510.83,114.32 512.75,114.46 514.68,114.61 516.61,114.76 518.54,114.92 520.46,115.08 522.39,115.26 524.32,115.45 526.25,115.65 528.17,115.86 530.10,116.08 532.03,116.30 533.95,116.53 535.88,116.76 537.81,117.00 539.74,117.24 541.66,117.49 543.59,117.73 545.52,117.97 547.45,118.22 549.37,118.46 551.30,118.70 553.23,118.93 555.15,119.16 557.08,119.38 559.01,119.60 560.94,119.81 562.86,120.01 564.79,120.20 566.72,120.38 568.65,120.55 570.57,120.72 572.50,120.88 574.43,121.03 576.35,121.18 578.28,121.33 580.21,121.48 582.14,121.62 584.06,121.77 585.99,121.92 587.92,122.06 589.85,122.21 591.77,122.37 593.70,122.53 595.63,122.69 597.55,122.87 599.48,123.05 601.41,123.23 603.34,123.42 605.26,123.61 607.19,123.80 609.12,124.00 611.05,124.20 612.97,124.41 614.90,124.61 616.83,124.82 618.75,125.04 620.68,125.25 622.61,125.47 624.54,125.69 626.46,125.91 628.39,126.14 630.32,126.37 632.25,126.60 634.17,126.84 636.10,127.07 638.03,127.31 639.95,127.55 641.88,127.79 643.81,128.04 645.74,128.29 647.66,128.55 649.59,128.81 651.52,129.08 653.45,129.36 655.37,129.64 657.30,129.94 659.23,130.24 661.15,130.56 663.08,130.88 665.01,131.24 666.94,131.63 668.86,132.04 670.79,132.47 672.72,132.91 674.65,133.35 676.57,133.78 678.50,134.20" fill="none" stroke="#2f8ad6" stroke-width="1.1" stroke-linejoin="round" stroke-dasharray="2.6 1.9"/>
<line x1="518.60" y1="77.20" x2="518.60" y2="109.50" stroke="#222" stroke-width="0.75" stroke-dasharray="1.3 1.0"/>
<path d="M518.6 113.2l-1.5 -4.2h3z" fill="#111"/>
<text transform="translate(524.00,102.60) scale(0.975,1)" font-size="8.1" text-anchor="start" >46 dB</text>
<line x1="591.90" y1="29.70" x2="601.90" y2="29.70" stroke="#bdbdbd" stroke-width="1.1" />
<text transform="translate(606.00,32.40) scale(0.975,1)" font-size="8.1" text-anchor="start" >Free running</text>
<line x1="591.90" y1="41.40" x2="601.90" y2="41.40" stroke="#cc5060" stroke-width="0.8" />
<text transform="translate(606.00,43.90) scale(0.975,1)" font-size="8.1" text-anchor="start" >Locked</text>
<line x1="592.40" y1="54.00" x2="602.40" y2="54.00" stroke="#5aa8e6" stroke-width="1.5" stroke-dasharray="1.8 2.35"/>
<text transform="translate(606.00,56.30) scale(0.975,1)" font-size="8.1" text-anchor="start" >TRN</text>
<defs><clipPath id="cpc"><rect x="500.9" y="15.9" width="74.3" height="52.4"/></clipPath><filter id="bl1" x="-20%" y="-20%" width="140%" height="140%"><feGaussianBlur stdDeviation="0.6"/></filter></defs>
<g clip-path="url(#cpc)">
<rect x="500" y="15" width="76" height="54" fill="#121110"/>
<g filter="url(#bl1)">
<polygon points="498.86,13.86 519.46,13.86 517.91,21.93 498.86,26.05" fill="#cdc6be"/>
<polygon points="498.86,13.86 508.30,13.86 506.58,21.58 498.86,23.64" fill="#eeeae4"/>
<polygon points="517.23,13.86 524.09,13.86 535.42,20.55 530.96,24.33" fill="#e2303e"/>
<polygon points="519.46,13.86 522.03,13.86 533.71,21.24 532.33,22.61" fill="#f06068"/>
<polygon points="498.86,25.70 517.74,21.58 548.13,29.31 525.47,39.09 498.86,33.60" fill="#d4aa3a"/>
<polygon points="503.15,28.11 518.26,24.33 542.98,30.17 526.84,36.69" fill="#ecca60"/>
<polygon points="498.86,33.26 525.47,39.09 524.61,63.13 498.86,55.92" fill="#b48c2c"/>
<polygon points="498.86,35.66 521.35,41.15 521.35,46.30 498.86,41.15" fill="#8a8476"/>
<polygon points="498.86,48.71 520.32,48.02 520.32,51.11 498.86,52.83" fill="#dcb64c"/>
<polygon points="498.86,43.21 505.90,43.56 505.90,52.83 498.86,53.52" fill="#e6e2da"/>
<polygon points="498.86,55.92 524.61,63.13 524.61,69.65 498.86,69.65" fill="#684622"/>
<polygon points="498.86,62.79 506.93,63.82 506.93,69.65 498.86,69.65" fill="#d8d0c4"/>
<polygon points="525.47,39.09 548.13,29.31 548.13,54.55 525.12,60.04" fill="#5e4a22"/>
<polygon points="526.84,40.47 540.92,35.66 540.92,43.56 526.84,46.99" fill="#a8842e"/>
<polygon points="530.62,48.02 543.32,46.99 543.32,55.92 530.62,57.98" fill="#cccdd0"/>
<polygon points="526.84,47.33 530.62,48.02 530.62,57.98 526.84,59.01" fill="#86806e"/>
<polygon points="546.76,32.57 555.34,29.48 556.03,31.20 547.79,34.63" fill="#d0a040"/>
<polygon points="549.16,36.69 559.80,32.91 560.49,34.63 549.85,38.75" fill="#d0a040"/>
<polygon points="546.41,43.21 576.97,36.69 576.97,56.26 540.92,53.52" fill="#18181a"/>
<polygon points="524.61,59.70 576.97,54.89 576.97,69.65 524.61,69.65" fill="#b4745c"/>
<polygon points="524.61,59.70 576.97,54.89 576.97,56.95 524.61,62.10" fill="#7c4a38"/>
<polygon points="536.11,52.14 544.70,53.86 544.35,55.06 535.77,53.34" fill="#18a860"/>
</g>
<polyline points="544.35,49.74 554.65,51.45 561.18,52.83 563.58,51.45 562.21,50.25 559.80,51.80 561.52,53.17 566.67,53.52" fill="none" stroke="#e04058" stroke-width="0.5"/>
<path d="M551.56,29.14L542.29,40.47" stroke="#fff" stroke-width="0.9"/><polygon points="539.55,43.56 540.92,38.75 544.01,41.15" fill="#fff"/>
</g>
<text transform="translate(533.00,25.00) scale(0.975,1)" font-size="8.1" text-anchor="start" class="w">DFB laser</text>
<text transform="translate(553.50,63.70) scale(0.975,1)" font-size="8.1" text-anchor="middle" class="w">Microring</text>
</g>
<g id="pd">
<line x1="32.50" y1="183.00" x2="32.50" y2="313.00" stroke="#444" stroke-width="0.6" />
<line x1="32.50" y1="313.00" x2="166.50" y2="313.00" stroke="#444" stroke-width="0.6" />
<line x1="32.50" y1="313.00" x2="32.50" y2="310.40" stroke="#444" stroke-width="0.6" />
<line x1="52.67" y1="313.00" x2="52.67" y2="311.80" stroke="#444" stroke-width="0.45" />
<line x1="64.47" y1="313.00" x2="64.47" y2="311.80" stroke="#444" stroke-width="0.45" />
<line x1="72.84" y1="313.00" x2="72.84" y2="311.80" stroke="#444" stroke-width="0.45" />
<line x1="79.33" y1="313.00" x2="79.33" y2="311.80" stroke="#444" stroke-width="0.45" />
<line x1="84.64" y1="313.00" x2="84.64" y2="311.80" stroke="#444" stroke-width="0.45" />
<line x1="89.12" y1="313.00" x2="89.12" y2="311.80" stroke="#444" stroke-width="0.45" />
<line x1="93.01" y1="313.00" x2="93.01" y2="311.80" stroke="#444" stroke-width="0.45" />
<line x1="96.43" y1="313.00" x2="96.43" y2="311.80" stroke="#444" stroke-width="0.45" />
<line x1="99.50" y1="313.00" x2="99.50" y2="310.40" stroke="#444" stroke-width="0.6" />
<line x1="119.67" y1="313.00" x2="119.67" y2="311.80" stroke="#444" stroke-width="0.45" />
<line x1="131.47" y1="313.00" x2="131.47" y2="311.80" stroke="#444" stroke-width="0.45" />
<line x1="139.84" y1="313.00" x2="139.84" y2="311.80" stroke="#444" stroke-width="0.45" />
<line x1="146.33" y1="313.00" x2="146.33" y2="311.80" stroke="#444" stroke-width="0.45" />
<line x1="151.64" y1="313.00" x2="151.64" y2="311.80" stroke="#444" stroke-width="0.45" />
<line x1="156.12" y1="313.00" x2="156.12" y2="311.80" stroke="#444" stroke-width="0.45" />
<line x1="160.01" y1="313.00" x2="160.01" y2="311.80" stroke="#444" stroke-width="0.45" />
<line x1="163.43" y1="313.00" x2="163.43" y2="311.80" stroke="#444" stroke-width="0.45" />
<line x1="166.50" y1="313.00" x2="166.50" y2="310.40" stroke="#444" stroke-width="0.6" />
<line x1="32.50" y1="313.00" x2="34.90" y2="313.00" stroke="#444" stroke-width="0.6" />
<line x1="32.50" y1="305.17" x2="33.60" y2="305.17" stroke="#444" stroke-width="0.4" />
<line x1="32.50" y1="300.59" x2="33.60" y2="300.59" stroke="#444" stroke-width="0.4" />
<line x1="32.50" y1="297.35" x2="33.60" y2="297.35" stroke="#444" stroke-width="0.4" />
<line x1="32.50" y1="294.83" x2="33.60" y2="294.83" stroke="#444" stroke-width="0.4" />
<line x1="32.50" y1="292.77" x2="33.60" y2="292.77" stroke="#444" stroke-width="0.4" />
<line x1="32.50" y1="291.03" x2="33.60" y2="291.03" stroke="#444" stroke-width="0.4" />
<line x1="32.50" y1="289.52" x2="33.60" y2="289.52" stroke="#444" stroke-width="0.4" />
<line x1="32.50" y1="288.19" x2="33.60" y2="288.19" stroke="#444" stroke-width="0.4" />
<text transform="translate(28.50,316.40) scale(0.975,1)" font-size="8.1" text-anchor="end" >10<tspan dy="-3.0" font-size="5.1">0</tspan></text>
<line x1="32.50" y1="287.00" x2="34.90" y2="287.00" stroke="#444" stroke-width="0.6" />
<line x1="32.50" y1="279.17" x2="33.60" y2="279.17" stroke="#444" stroke-width="0.4" />
<line x1="32.50" y1="274.59" x2="33.60" y2="274.59" stroke="#444" stroke-width="0.4" />
<line x1="32.50" y1="271.35" x2="33.60" y2="271.35" stroke="#444" stroke-width="0.4" />
<line x1="32.50" y1="268.83" x2="33.60" y2="268.83" stroke="#444" stroke-width="0.4" />
<line x1="32.50" y1="266.77" x2="33.60" y2="266.77" stroke="#444" stroke-width="0.4" />
<line x1="32.50" y1="265.03" x2="33.60" y2="265.03" stroke="#444" stroke-width="0.4" />
<line x1="32.50" y1="263.52" x2="33.60" y2="263.52" stroke="#444" stroke-width="0.4" />
<line x1="32.50" y1="262.19" x2="33.60" y2="262.19" stroke="#444" stroke-width="0.4" />
<text transform="translate(28.50,290.40) scale(0.975,1)" font-size="8.1" text-anchor="end" >10<tspan dy="-3.0" font-size="5.1">1</tspan></text>
<line x1="32.50" y1="261.00" x2="34.90" y2="261.00" stroke="#444" stroke-width="0.6" />
<line x1="32.50" y1="253.17" x2="33.60" y2="253.17" stroke="#444" stroke-width="0.4" />
<line x1="32.50" y1="248.59" x2="33.60" y2="248.59" stroke="#444" stroke-width="0.4" />
<line x1="32.50" y1="245.35" x2="33.60" y2="245.35" stroke="#444" stroke-width="0.4" />
<line x1="32.50" y1="242.83" x2="33.60" y2="242.83" stroke="#444" stroke-width="0.4" />
<line x1="32.50" y1="240.77" x2="33.60" y2="240.77" stroke="#444" stroke-width="0.4" />
<line x1="32.50" y1="239.03" x2="33.60" y2="239.03" stroke="#444" stroke-width="0.4" />
<line x1="32.50" y1="237.52" x2="33.60" y2="237.52" stroke="#444" stroke-width="0.4" />
<line x1="32.50" y1="236.19" x2="33.60" y2="236.19" stroke="#444" stroke-width="0.4" />
<text transform="translate(28.50,264.40) scale(0.975,1)" font-size="8.1" text-anchor="end" >10<tspan dy="-3.0" font-size="5.1">2</tspan></text>
<line x1="32.50" y1="235.00" x2="34.90" y2="235.00" stroke="#444" stroke-width="0.6" />
<line x1="32.50" y1="227.17" x2="33.60" y2="227.17" stroke="#444" stroke-width="0.4" />
<line x1="32.50" y1="222.59" x2="33.60" y2="222.59" stroke="#444" stroke-width="0.4" />
<line x1="32.50" y1="219.35" x2="33.60" y2="219.35" stroke="#444" stroke-width="0.4" />
<line x1="32.50" y1="216.83" x2="33.60" y2="216.83" stroke="#444" stroke-width="0.4" />
<line x1="32.50" y1="214.77" x2="33.60" y2="214.77" stroke="#444" stroke-width="0.4" />
<line x1="32.50" y1="213.03" x2="33.60" y2="213.03" stroke="#444" stroke-width="0.4" />
<line x1="32.50" y1="211.52" x2="33.60" y2="211.52" stroke="#444" stroke-width="0.4" />
<line x1="32.50" y1="210.19" x2="33.60" y2="210.19" stroke="#444" stroke-width="0.4" />
<text transform="translate(28.50,238.40) scale(0.975,1)" font-size="8.1" text-anchor="end" >10<tspan dy="-3.0" font-size="5.1">3</tspan></text>
<line x1="32.50" y1="209.00" x2="34.90" y2="209.00" stroke="#444" stroke-width="0.6" />
<line x1="32.50" y1="201.17" x2="33.60" y2="201.17" stroke="#444" stroke-width="0.4" />
<line x1="32.50" y1="196.59" x2="33.60" y2="196.59" stroke="#444" stroke-width="0.4" />
<line x1="32.50" y1="193.35" x2="33.60" y2="193.35" stroke="#444" stroke-width="0.4" />
<line x1="32.50" y1="190.83" x2="33.60" y2="190.83" stroke="#444" stroke-width="0.4" />
<line x1="32.50" y1="188.77" x2="33.60" y2="188.77" stroke="#444" stroke-width="0.4" />
<line x1="32.50" y1="187.03" x2="33.60" y2="187.03" stroke="#444" stroke-width="0.4" />
<line x1="32.50" y1="185.52" x2="33.60" y2="185.52" stroke="#444" stroke-width="0.4" />
<line x1="32.50" y1="184.19" x2="33.60" y2="184.19" stroke="#444" stroke-width="0.4" />
<text transform="translate(28.50,212.40) scale(0.975,1)" font-size="8.1" text-anchor="end" >10<tspan dy="-3.0" font-size="5.1">4</tspan></text>
<line x1="32.50" y1="183.00" x2="34.90" y2="183.00" stroke="#444" stroke-width="0.6" />
<text transform="translate(28.50,186.40) scale(0.975,1)" font-size="8.1" text-anchor="end" >10<tspan dy="-3.0" font-size="5.1">5</tspan></text>
<text transform="translate(33.10,325.30) scale(0.975,1)" font-size="8.1" text-anchor="middle" >10<tspan dy="-3.0" font-size="5.1">5</tspan></text>
<text transform="translate(100.10,325.30) scale(0.975,1)" font-size="8.1" text-anchor="middle" >10<tspan dy="-3.0" font-size="5.1">6</tspan></text>
<text transform="translate(167.10,325.30) scale(0.975,1)" font-size="8.1" text-anchor="middle" >10<tspan dy="-3.0" font-size="5.1">7</tspan></text>
<text transform="translate(99.00,335.90) scale(0.975,1)" font-size="8.1" text-anchor="middle" >Offset frequency (Hz)</text>
<line x1="32.50" y1="296.50" x2="166.50" y2="296.50" stroke="#808080" stroke-width="0.7" stroke-dasharray="1.9 1.4"/>
<text transform="translate(42.70,294.50) scale(0.975,1)" font-size="8.1" text-anchor="start" >FL = 15 Hz</text>
<line x1="186.50" y1="183.00" x2="186.50" y2="313.00" stroke="#444" stroke-width="0.6" />
<line x1="186.50" y1="313.00" x2="320.50" y2="313.00" stroke="#444" stroke-width="0.6" />
<line x1="186.50" y1="313.00" x2="186.50" y2="310.40" stroke="#444" stroke-width="0.6" />
<line x1="206.67" y1="313.00" x2="206.67" y2="311.80" stroke="#444" stroke-width="0.45" />
<line x1="218.47" y1="313.00" x2="218.47" y2="311.80" stroke="#444" stroke-width="0.45" />
<line x1="226.84" y1="313.00" x2="226.84" y2="311.80" stroke="#444" stroke-width="0.45" />
<line x1="233.33" y1="313.00" x2="233.33" y2="311.80" stroke="#444" stroke-width="0.45" />
<line x1="238.64" y1="313.00" x2="238.64" y2="311.80" stroke="#444" stroke-width="0.45" />
<line x1="243.12" y1="313.00" x2="243.12" y2="311.80" stroke="#444" stroke-width="0.45" />
<line x1="247.01" y1="313.00" x2="247.01" y2="311.80" stroke="#444" stroke-width="0.45" />
<line x1="250.43" y1="313.00" x2="250.43" y2="311.80" stroke="#444" stroke-width="0.45" />
<line x1="253.50" y1="313.00" x2="253.50" y2="310.40" stroke="#444" stroke-width="0.6" />
<line x1="273.67" y1="313.00" x2="273.67" y2="311.80" stroke="#444" stroke-width="0.45" />
<line x1="285.47" y1="313.00" x2="285.47" y2="311.80" stroke="#444" stroke-width="0.45" />
<line x1="293.84" y1="313.00" x2="293.84" y2="311.80" stroke="#444" stroke-width="0.45" />
<line x1="300.33" y1="313.00" x2="300.33" y2="311.80" stroke="#444" stroke-width="0.45" />
<line x1="305.64" y1="313.00" x2="305.64" y2="311.80" stroke="#444" stroke-width="0.45" />
<line x1="310.12" y1="313.00" x2="310.12" y2="311.80" stroke="#444" stroke-width="0.45" />
<line x1="314.01" y1="313.00" x2="314.01" y2="311.80" stroke="#444" stroke-width="0.45" />
<line x1="317.43" y1="313.00" x2="317.43" y2="311.80" stroke="#444" stroke-width="0.45" />
<line x1="320.50" y1="313.00" x2="320.50" y2="310.40" stroke="#444" stroke-width="0.6" />
<line x1="186.50" y1="313.00" x2="188.90" y2="313.00" stroke="#444" stroke-width="0.6" />
<line x1="186.50" y1="305.17" x2="187.60" y2="305.17" stroke="#444" stroke-width="0.4" />
<line x1="186.50" y1="300.59" x2="187.60" y2="300.59" stroke="#444" stroke-width="0.4" />
<line x1="186.50" y1="297.35" x2="187.60" y2="297.35" stroke="#444" stroke-width="0.4" />
<line x1="186.50" y1="294.83" x2="187.60" y2="294.83" stroke="#444" stroke-width="0.4" />
<line x1="186.50" y1="292.77" x2="187.60" y2="292.77" stroke="#444" stroke-width="0.4" />
<line x1="186.50" y1="291.03" x2="187.60" y2="291.03" stroke="#444" stroke-width="0.4" />
<line x1="186.50" y1="289.52" x2="187.60" y2="289.52" stroke="#444" stroke-width="0.4" />
<line x1="186.50" y1="288.19" x2="187.60" y2="288.19" stroke="#444" stroke-width="0.4" />
<line x1="186.50" y1="287.00" x2="188.90" y2="287.00" stroke="#444" stroke-width="0.6" />
<line x1="186.50" y1="279.17" x2="187.60" y2="279.17" stroke="#444" stroke-width="0.4" />
<line x1="186.50" y1="274.59" x2="187.60" y2="274.59" stroke="#444" stroke-width="0.4" />
<line x1="186.50" y1="271.35" x2="187.60" y2="271.35" stroke="#444" stroke-width="0.4" />
<line x1="186.50" y1="268.83" x2="187.60" y2="268.83" stroke="#444" stroke-width="0.4" />
<line x1="186.50" y1="266.77" x2="187.60" y2="266.77" stroke="#444" stroke-width="0.4" />
<line x1="186.50" y1="265.03" x2="187.60" y2="265.03" stroke="#444" stroke-width="0.4" />
<line x1="186.50" y1="263.52" x2="187.60" y2="263.52" stroke="#444" stroke-width="0.4" />
<line x1="186.50" y1="262.19" x2="187.60" y2="262.19" stroke="#444" stroke-width="0.4" />
<line x1="186.50" y1="261.00" x2="188.90" y2="261.00" stroke="#444" stroke-width="0.6" />
<line x1="186.50" y1="253.17" x2="187.60" y2="253.17" stroke="#444" stroke-width="0.4" />
<line x1="186.50" y1="248.59" x2="187.60" y2="248.59" stroke="#444" stroke-width="0.4" />
<line x1="186.50" y1="245.35" x2="187.60" y2="245.35" stroke="#444" stroke-width="0.4" />
<line x1="186.50" y1="242.83" x2="187.60" y2="242.83" stroke="#444" stroke-width="0.4" />
<line x1="186.50" y1="240.77" x2="187.60" y2="240.77" stroke="#444" stroke-width="0.4" />
<line x1="186.50" y1="239.03" x2="187.60" y2="239.03" stroke="#444" stroke-width="0.4" />
<line x1="186.50" y1="237.52" x2="187.60" y2="237.52" stroke="#444" stroke-width="0.4" />
<line x1="186.50" y1="236.19" x2="187.60" y2="236.19" stroke="#444" stroke-width="0.4" />
<line x1="186.50" y1="235.00" x2="188.90" y2="235.00" stroke="#444" stroke-width="0.6" />
<line x1="186.50" y1="227.17" x2="187.60" y2="227.17" stroke="#444" stroke-width="0.4" />
<line x1="186.50" y1="222.59" x2="187.60" y2="222.59" stroke="#444" stroke-width="0.4" />
<line x1="186.50" y1="219.35" x2="187.60" y2="219.35" stroke="#444" stroke-width="0.4" />
<line x1="186.50" y1="216.83" x2="187.60" y2="216.83" stroke="#444" stroke-width="0.4" />
<line x1="186.50" y1="214.77" x2="187.60" y2="214.77" stroke="#444" stroke-width="0.4" />
<line x1="186.50" y1="213.03" x2="187.60" y2="213.03" stroke="#444" stroke-width="0.4" />
<line x1="186.50" y1="211.52" x2="187.60" y2="211.52" stroke="#444" stroke-width="0.4" />
<line x1="186.50" y1="210.19" x2="187.60" y2="210.19" stroke="#444" stroke-width="0.4" />
<line x1="186.50" y1="209.00" x2="188.90" y2="209.00" stroke="#444" stroke-width="0.6" />
<line x1="186.50" y1="201.17" x2="187.60" y2="201.17" stroke="#444" stroke-width="0.4" />
<line x1="186.50" y1="196.59" x2="187.60" y2="196.59" stroke="#444" stroke-width="0.4" />
<line x1="186.50" y1="193.35" x2="187.60" y2="193.35" stroke="#444" stroke-width="0.4" />
<line x1="186.50" y1="190.83" x2="187.60" y2="190.83" stroke="#444" stroke-width="0.4" />
<line x1="186.50" y1="188.77" x2="187.60" y2="188.77" stroke="#444" stroke-width="0.4" />
<line x1="186.50" y1="187.03" x2="187.60" y2="187.03" stroke="#444" stroke-width="0.4" />
<line x1="186.50" y1="185.52" x2="187.60" y2="185.52" stroke="#444" stroke-width="0.4" />
<line x1="186.50" y1="184.19" x2="187.60" y2="184.19" stroke="#444" stroke-width="0.4" />
<line x1="186.50" y1="183.00" x2="188.90" y2="183.00" stroke="#444" stroke-width="0.6" />
<text transform="translate(187.10,325.30) scale(0.975,1)" font-size="8.1" text-anchor="middle" >10<tspan dy="-3.0" font-size="5.1">5</tspan></text>
<text transform="translate(254.10,325.30) scale(0.975,1)" font-size="8.1" text-anchor="middle" >10<tspan dy="-3.0" font-size="5.1">6</tspan></text>
<text transform="translate(321.10,325.30) scale(0.975,1)" font-size="8.1" text-anchor="middle" >10<tspan dy="-3.0" font-size="5.1">7</tspan></text>
<text transform="translate(253.50,335.90) scale(0.975,1)" font-size="8.1" text-anchor="middle" >Offset frequency (Hz)</text>
<line x1="186.50" y1="299.50" x2="320.50" y2="299.50" stroke="#808080" stroke-width="0.7" stroke-dasharray="1.9 1.4"/>
<text transform="translate(200.30,295.60) scale(0.975,1)" font-size="8.1" text-anchor="start" >FL = 12 Hz</text>
<line x1="340.50" y1="183.00" x2="340.50" y2="313.00" stroke="#444" stroke-width="0.6" />
<line x1="340.50" y1="313.00" x2="474.50" y2="313.00" stroke="#444" stroke-width="0.6" />
<line x1="340.50" y1="313.00" x2="340.50" y2="310.40" stroke="#444" stroke-width="0.6" />
<line x1="360.67" y1="313.00" x2="360.67" y2="311.80" stroke="#444" stroke-width="0.45" />
<line x1="372.47" y1="313.00" x2="372.47" y2="311.80" stroke="#444" stroke-width="0.45" />
<line x1="380.84" y1="313.00" x2="380.84" y2="311.80" stroke="#444" stroke-width="0.45" />
<line x1="387.33" y1="313.00" x2="387.33" y2="311.80" stroke="#444" stroke-width="0.45" />
<line x1="392.64" y1="313.00" x2="392.64" y2="311.80" stroke="#444" stroke-width="0.45" />
<line x1="397.12" y1="313.00" x2="397.12" y2="311.80" stroke="#444" stroke-width="0.45" />
<line x1="401.01" y1="313.00" x2="401.01" y2="311.80" stroke="#444" stroke-width="0.45" />
<line x1="404.43" y1="313.00" x2="404.43" y2="311.80" stroke="#444" stroke-width="0.45" />
<line x1="407.50" y1="313.00" x2="407.50" y2="310.40" stroke="#444" stroke-width="0.6" />
<line x1="427.67" y1="313.00" x2="427.67" y2="311.80" stroke="#444" stroke-width="0.45" />
<line x1="439.47" y1="313.00" x2="439.47" y2="311.80" stroke="#444" stroke-width="0.45" />
<line x1="447.84" y1="313.00" x2="447.84" y2="311.80" stroke="#444" stroke-width="0.45" />
<line x1="454.33" y1="313.00" x2="454.33" y2="311.80" stroke="#444" stroke-width="0.45" />
<line x1="459.64" y1="313.00" x2="459.64" y2="311.80" stroke="#444" stroke-width="0.45" />
<line x1="464.12" y1="313.00" x2="464.12" y2="311.80" stroke="#444" stroke-width="0.45" />
<line x1="468.01" y1="313.00" x2="468.01" y2="311.80" stroke="#444" stroke-width="0.45" />
<line x1="471.43" y1="313.00" x2="471.43" y2="311.80" stroke="#444" stroke-width="0.45" />
<line x1="474.50" y1="313.00" x2="474.50" y2="310.40" stroke="#444" stroke-width="0.6" />
<line x1="340.50" y1="313.00" x2="342.90" y2="313.00" stroke="#444" stroke-width="0.6" />
<line x1="340.50" y1="305.17" x2="341.60" y2="305.17" stroke="#444" stroke-width="0.4" />
<line x1="340.50" y1="300.59" x2="341.60" y2="300.59" stroke="#444" stroke-width="0.4" />
<line x1="340.50" y1="297.35" x2="341.60" y2="297.35" stroke="#444" stroke-width="0.4" />
<line x1="340.50" y1="294.83" x2="341.60" y2="294.83" stroke="#444" stroke-width="0.4" />
<line x1="340.50" y1="292.77" x2="341.60" y2="292.77" stroke="#444" stroke-width="0.4" />
<line x1="340.50" y1="291.03" x2="341.60" y2="291.03" stroke="#444" stroke-width="0.4" />
<line x1="340.50" y1="289.52" x2="341.60" y2="289.52" stroke="#444" stroke-width="0.4" />
<line x1="340.50" y1="288.19" x2="341.60" y2="288.19" stroke="#444" stroke-width="0.4" />
<line x1="340.50" y1="287.00" x2="342.90" y2="287.00" stroke="#444" stroke-width="0.6" />
<line x1="340.50" y1="279.17" x2="341.60" y2="279.17" stroke="#444" stroke-width="0.4" />
<line x1="340.50" y1="274.59" x2="341.60" y2="274.59" stroke="#444" stroke-width="0.4" />
<line x1="340.50" y1="271.35" x2="341.60" y2="271.35" stroke="#444" stroke-width="0.4" />
<line x1="340.50" y1="268.83" x2="341.60" y2="268.83" stroke="#444" stroke-width="0.4" />
<line x1="340.50" y1="266.77" x2="341.60" y2="266.77" stroke="#444" stroke-width="0.4" />
<line x1="340.50" y1="265.03" x2="341.60" y2="265.03" stroke="#444" stroke-width="0.4" />
<line x1="340.50" y1="263.52" x2="341.60" y2="263.52" stroke="#444" stroke-width="0.4" />
<line x1="340.50" y1="262.19" x2="341.60" y2="262.19" stroke="#444" stroke-width="0.4" />
<line x1="340.50" y1="261.00" x2="342.90" y2="261.00" stroke="#444" stroke-width="0.6" />
<line x1="340.50" y1="253.17" x2="341.60" y2="253.17" stroke="#444" stroke-width="0.4" />
<line x1="340.50" y1="248.59" x2="341.60" y2="248.59" stroke="#444" stroke-width="0.4" />
<line x1="340.50" y1="245.35" x2="341.60" y2="245.35" stroke="#444" stroke-width="0.4" />
<line x1="340.50" y1="242.83" x2="341.60" y2="242.83" stroke="#444" stroke-width="0.4" />
<line x1="340.50" y1="240.77" x2="341.60" y2="240.77" stroke="#444" stroke-width="0.4" />
<line x1="340.50" y1="239.03" x2="341.60" y2="239.03" stroke="#444" stroke-width="0.4" />
<line x1="340.50" y1="237.52" x2="341.60" y2="237.52" stroke="#444" stroke-width="0.4" />
<line x1="340.50" y1="236.19" x2="341.60" y2="236.19" stroke="#444" stroke-width="0.4" />
<line x1="340.50" y1="235.00" x2="342.90" y2="235.00" stroke="#444" stroke-width="0.6" />
<line x1="340.50" y1="227.17" x2="341.60" y2="227.17" stroke="#444" stroke-width="0.4" />
<line x1="340.50" y1="222.59" x2="341.60" y2="222.59" stroke="#444" stroke-width="0.4" />
<line x1="340.50" y1="219.35" x2="341.60" y2="219.35" stroke="#444" stroke-width="0.4" />
<line x1="340.50" y1="216.83" x2="341.60" y2="216.83" stroke="#444" stroke-width="0.4" />
<line x1="340.50" y1="214.77" x2="341.60" y2="214.77" stroke="#444" stroke-width="0.4" />
<line x1="340.50" y1="213.03" x2="341.60" y2="213.03" stroke="#444" stroke-width="0.4" />
<line x1="340.50" y1="211.52" x2="341.60" y2="211.52" stroke="#444" stroke-width="0.4" />
<line x1="340.50" y1="210.19" x2="341.60" y2="210.19" stroke="#444" stroke-width="0.4" />
<line x1="340.50" y1="209.00" x2="342.90" y2="209.00" stroke="#444" stroke-width="0.6" />
<line x1="340.50" y1="201.17" x2="341.60" y2="201.17" stroke="#444" stroke-width="0.4" />
<line x1="340.50" y1="196.59" x2="341.60" y2="196.59" stroke="#444" stroke-width="0.4" />
<line x1="340.50" y1="193.35" x2="341.60" y2="193.35" stroke="#444" stroke-width="0.4" />
<line x1="340.50" y1="190.83" x2="341.60" y2="190.83" stroke="#444" stroke-width="0.4" />
<line x1="340.50" y1="188.77" x2="341.60" y2="188.77" stroke="#444" stroke-width="0.4" />
<line x1="340.50" y1="187.03" x2="341.60" y2="187.03" stroke="#444" stroke-width="0.4" />
<line x1="340.50" y1="185.52" x2="341.60" y2="185.52" stroke="#444" stroke-width="0.4" />
<line x1="340.50" y1="184.19" x2="341.60" y2="184.19" stroke="#444" stroke-width="0.4" />
<line x1="340.50" y1="183.00" x2="342.90" y2="183.00" stroke="#444" stroke-width="0.6" />
<text transform="translate(341.10,325.30) scale(0.975,1)" font-size="8.1" text-anchor="middle" >10<tspan dy="-3.0" font-size="5.1">5</tspan></text>
<text transform="translate(408.10,325.30) scale(0.975,1)" font-size="8.1" text-anchor="middle" >10<tspan dy="-3.0" font-size="5.1">6</tspan></text>
<text transform="translate(475.10,325.30) scale(0.975,1)" font-size="8.1" text-anchor="middle" >10<tspan dy="-3.0" font-size="5.1">7</tspan></text>
<text transform="translate(407.50,335.90) scale(0.975,1)" font-size="8.1" text-anchor="middle" >Offset frequency (Hz)</text>
<line x1="340.50" y1="276.50" x2="474.50" y2="276.50" stroke="#808080" stroke-width="0.7" stroke-dasharray="1.9 1.4"/>
<text transform="translate(355.80,288.10) scale(0.975,1)" font-size="8.1" text-anchor="start" >FL = 90 Hz</text>
<text transform="translate(10.70,247.00) rotate(-90) scale(0.975,1)" font-size="8.1" text-anchor="middle">Frequency noise (Hz<tspan dy="-3" font-size="5">2</tspan><tspan dy="3"> Hz</tspan><tspan dy="-3" font-size="5">–1</tspan><tspan dy="3">)</tspan></text>
<polyline points="32.50,257.30 33.97,257.84 35.43,258.38 36.90,258.92 38.37,259.45 39.84,259.98 41.30,260.51 42.77,261.04 44.24,261.57 45.70,262.09 47.17,262.62 48.64,263.14 50.11,263.67 51.57,264.20 53.04,264.73 54.51,265.26 55.98,265.79 57.44,266.33 58.91,266.87 60.38,267.41 61.84,267.96 63.31,268.51 64.78,269.06 66.25,269.62 67.71,270.19 69.18,270.76 70.65,271.34 72.11,271.92 73.58,272.51 75.05,273.11 76.52,273.73 77.98,274.35 79.45,274.99 80.92,275.63 82.39,276.28 83.85,276.95 85.32,277.61 86.79,278.29 88.25,278.96 89.72,279.64 91.19,280.33 92.66,281.01 94.12,281.69 95.59,282.38 97.06,283.06 98.52,283.73 99.99,284.41 101.46,285.07 102.93,285.73 104.39,286.39 105.86,287.02 107.33,287.63 108.80,288.24 110.26,288.85 111.73,289.47 113.20,290.10 114.66,290.75 116.13,291.44 117.60,292.16 119.07,292.93 120.53,293.73 122.00,294.58 123.47,295.46 124.93,296.38 126.40,297.32 127.87,298.29 129.34,299.28 130.80,300.29 132.27,301.31 133.74,302.35 135.21,303.42 136.67,304.53 138.14,305.68 139.61,306.86 141.07,308.06 142.54,309.27 144.01,310.49 145.48,311.71 146.94,312.91 148.41,314.10" fill="none" stroke="#505050" stroke-width="0.8" stroke-linejoin="round" />
<polygon points="32.5,222.6 32.8,222.7 33.0,222.0 33.2,222.1 33.5,221.6 33.8,222.0 34.0,222.1 34.2,222.4 34.5,222.7 34.8,222.3 35.0,223.2 35.2,223.4 35.5,224.6 35.8,224.7 36.0,224.9 36.2,224.7 36.5,223.7 36.8,224.3 37.0,224.4 37.2,224.1 37.5,224.9 37.8,225.2 38.0,226.0 38.2,226.3 38.5,225.5 38.8,226.2 39.0,225.9 39.2,226.9 39.5,226.8 39.8,227.7 40.0,228.6 40.2,228.3 40.5,228.8 40.8,228.8 41.0,227.9 41.2,227.8 41.5,228.4 41.8,229.1 42.0,230.3 42.2,230.9 42.5,231.6 42.8,231.8 43.0,231.6 43.2,232.1 43.5,232.2 43.8,232.7 44.0,233.7 44.2,233.0 44.5,233.6 44.8,234.6 45.0,235.6 45.2,236.7 45.5,237.1 45.8,238.5 46.0,238.2 46.2,238.2 46.5,237.2 46.8,237.3 47.0,237.6 47.2,237.7 47.5,239.6 47.8,239.2 48.0,241.8 48.2,241.7 48.5,241.4 48.8,241.9 49.0,240.9 49.2,241.9 49.5,243.3 49.8,242.9 50.0,244.4 50.2,244.2 50.5,244.6 50.8,245.5 51.0,246.2 51.2,246.4 51.5,246.4 51.8,245.8 52.0,247.0 52.2,246.0 52.5,246.1 52.8,247.6 53.0,247.4 53.2,247.6 53.5,248.0 53.8,249.1 54.0,249.1 54.2,247.8 54.5,247.9 54.8,247.6 55.0,248.0 55.2,248.8 55.5,249.7 55.8,250.5 56.0,250.7 56.2,251.8 56.5,251.3 56.8,251.9 57.0,253.3 57.2,253.7 57.5,254.2 57.8,253.8 58.0,253.8 58.2,254.7 58.5,254.9 58.8,255.1 59.0,254.9 59.2,255.4 59.5,255.2 59.8,255.1 60.0,256.0 60.2,256.5 60.5,256.9 60.8,256.4 61.0,258.0 61.2,258.7 61.5,258.5 61.8,258.2 62.0,260.0 62.2,257.9 62.5,259.4 62.8,259.4 63.0,259.0 63.2,259.8 63.5,259.1 63.8,260.8 64.0,261.3 64.2,260.9 64.5,261.0 64.8,261.4 65.0,262.7 65.2,263.7 65.5,264.2 65.8,264.5 66.0,263.4 66.2,263.2 66.5,263.2 66.8,262.8 67.0,263.3 67.2,262.9 67.5,262.3 67.8,263.2 68.0,265.1 68.2,264.7 68.5,265.7 68.8,265.9 69.0,265.1 69.2,266.7 69.5,266.2 69.8,266.2 70.0,265.5 70.2,266.2 70.5,265.4 70.8,266.6 71.0,265.5 71.2,267.0 71.5,266.4 71.8,266.3 72.0,266.7 72.2,267.3 72.5,267.5 72.8,267.9 73.0,266.1 73.2,267.1 73.5,267.5 73.8,268.1 74.0,269.0 74.2,267.9 74.5,268.7 74.8,270.0 75.0,268.4 75.2,269.2 75.5,268.9 75.8,268.7 76.0,267.7 76.2,267.6 76.5,268.5 76.8,269.2 77.0,270.5 77.2,272.4 77.5,271.8 77.8,271.2 78.0,271.1 78.2,270.5 78.5,269.5 78.8,268.4 79.0,269.6 79.2,270.4 79.5,271.6 79.8,271.8 80.0,270.5 80.2,270.6 80.5,271.6 80.8,272.1 81.0,272.4 81.2,273.9 81.5,274.7 81.8,274.6 82.0,274.1 82.2,273.9 82.5,273.5 82.8,273.6 83.0,273.1 83.2,273.8 83.5,275.4 83.8,276.5 84.0,274.9 84.2,275.3 84.5,275.1 84.8,273.8 85.0,275.0 85.2,274.8 85.5,276.0 85.8,276.9 86.0,276.7 86.2,276.7 86.5,275.4 86.8,276.6 87.0,277.1 87.2,275.3 87.5,275.3 87.8,273.7 88.0,276.5 88.2,276.3 88.5,278.5 88.8,277.2 89.0,275.7 89.2,276.2 89.5,275.7 89.8,278.1 90.0,278.5 90.2,278.6 90.5,278.0 90.8,279.1 91.0,279.7 91.2,280.5 91.5,280.2 91.8,279.2 92.0,278.5 92.2,277.7 92.5,279.9 92.8,280.4 93.0,280.6 93.2,282.5 93.5,281.0 93.8,281.9 94.0,282.0 94.2,282.1 94.5,281.6 94.8,283.2 95.0,280.3 95.2,280.0 95.5,280.4 95.8,278.9 96.0,279.8 96.2,280.4 96.5,280.0 96.8,282.2 97.0,282.8 97.2,282.5 97.5,282.8 97.8,283.0 98.0,282.4 98.2,282.8 98.5,282.8 98.8,283.1 99.0,283.3 99.2,283.2 99.5,280.9 99.8,282.2 100.0,281.6 100.2,283.5 100.5,284.3 100.8,284.3 101.0,284.2 101.2,284.7 101.5,282.8 101.8,282.4 102.0,282.8 102.2,281.7 102.5,284.0 102.8,283.9 103.0,282.0 103.2,285.3 103.5,284.4 103.8,284.9 104.0,285.8 104.2,284.8 104.5,284.2 104.8,286.8 105.0,286.4 105.2,283.1 105.5,284.7 105.8,283.7 106.0,282.7 106.2,282.1 106.5,282.6 106.8,284.1 107.0,286.4 107.2,284.6 107.5,286.3 107.8,284.1 108.0,284.4 108.2,285.9 108.5,284.4 108.8,285.8 109.0,284.9 109.2,284.5 109.5,287.6 109.8,287.0 110.0,286.4 110.2,286.8 110.5,285.8 110.8,286.0 111.0,284.3 111.2,286.5 111.5,285.9 111.8,285.9 112.0,285.7 112.2,285.5 112.5,288.7 112.8,289.1 113.0,290.2 113.2,288.5 113.5,287.3 113.8,286.3 114.0,286.2 114.2,286.5 114.5,289.2 114.8,288.5 115.0,288.7 115.2,287.2 115.5,289.5 115.8,288.0 116.0,287.9 116.2,288.4 116.5,287.5 116.8,288.4 117.0,288.8 117.2,289.2 117.5,288.1 117.8,288.6 118.0,289.0 118.2,289.4 118.5,290.4 118.8,290.2 119.0,288.3 119.2,286.3 119.5,287.0 119.8,287.4 120.0,286.8 120.2,289.7 120.5,289.8 120.8,290.8 121.0,289.4 121.2,289.4 121.5,287.6 121.8,288.1 122.0,289.2 122.2,289.9 122.5,288.9 122.8,289.6 123.0,290.1 123.2,291.0 123.5,289.5 123.8,290.3 124.0,289.2 124.2,290.9 124.5,292.0 124.8,290.2 125.0,292.5 125.2,292.3 125.5,290.2 125.8,290.8 126.0,290.6 126.2,290.7 126.5,292.1 126.8,291.5 127.0,290.0 127.2,290.4 127.5,290.4 127.8,290.0 128.0,290.8 128.2,288.9 128.5,289.9 128.8,290.7 129.0,289.9 129.2,291.1 129.5,290.2 129.8,290.7 130.0,290.7 130.2,290.0 130.5,290.3 130.8,290.2 131.0,290.2 131.2,293.9 131.5,294.3 131.8,293.2 132.0,292.1 132.2,291.6 132.5,292.3 132.8,293.0 133.0,292.4 133.2,293.0 133.5,291.8 133.8,292.0 134.0,292.7 134.2,292.6 134.5,291.0 134.8,291.0 135.0,291.2 135.2,291.9 135.5,293.0 135.8,292.4 136.0,292.8 136.2,292.7 136.5,293.4 136.8,291.5 137.0,290.8 137.2,292.7 137.5,292.0 137.8,292.2 138.0,291.0 138.2,291.2 138.5,289.9 138.8,287.0 139.0,290.3 139.2,292.2 139.5,291.0 139.8,292.8 140.0,291.9 140.2,291.9 140.5,291.7 140.8,291.2 141.0,292.0 141.2,291.7 141.5,289.3 141.8,291.9 142.0,290.1 142.2,292.9 142.5,292.8 142.8,292.4 143.0,294.3 143.2,291.2 143.5,292.4 143.8,291.7 144.0,290.5 144.2,291.0 144.5,291.9 144.8,291.9 145.0,290.9 145.2,292.9 145.5,291.0 145.8,291.8 146.0,291.1 146.2,291.1 146.5,291.0 146.8,289.6 147.0,289.9 147.2,290.6 147.5,291.0 147.8,291.3 148.0,289.9 148.2,292.1 148.5,289.7 148.8,288.8 149.0,292.6 149.2,291.3 149.5,291.9 149.8,291.2 150.0,288.4 150.2,290.8 150.5,288.9 150.8,290.4 151.0,290.4 151.2,291.4 151.5,290.7 151.8,288.9 152.0,290.8 152.2,289.1 152.5,288.6 152.8,290.8 153.0,291.0 153.2,289.0 153.5,290.1 153.8,289.0 154.0,288.6 154.2,288.1 154.5,290.4 154.8,287.6 155.0,286.6 155.2,290.6 155.5,288.9 155.8,288.8 156.0,289.4 156.2,286.9 156.5,287.5 156.8,288.2 157.0,285.1 157.2,288.2 157.5,285.1 157.8,286.1 158.0,283.9 158.2,287.3 158.5,285.5 158.8,286.5 159.0,286.8 159.2,285.5 159.5,285.3 159.8,283.3 160.0,282.3 160.2,283.8 160.5,284.7 160.8,284.0 161.0,282.6 161.2,285.5 161.5,283.7 161.8,283.3 162.0,281.4 162.2,279.2 162.5,281.5 162.8,282.6 163.0,281.6 163.2,279.7 163.5,280.4 163.8,281.1 164.0,280.8 164.2,280.1 164.5,281.1 164.8,282.1 165.0,276.6 165.2,280.7 165.5,279.8 165.8,279.3 166.0,279.4 166.2,278.3 166.5,278.7 166.5,283.6 166.2,283.9 166.0,285.8 165.8,284.8 165.5,288.0 165.2,285.5 165.0,287.9 164.8,286.9 164.5,288.0 164.2,291.1 164.0,285.8 163.8,285.7 163.5,288.5 163.2,287.6 163.0,289.5 162.8,287.4 162.5,287.8 162.2,286.3 162.0,288.1 161.8,289.9 161.5,289.4 161.2,290.5 161.0,290.1 160.8,291.8 160.5,291.1 160.2,291.2 160.0,290.7 159.8,292.9 159.5,292.8 159.2,293.8 159.0,294.5 158.8,291.7 158.5,292.8 158.2,294.4 158.0,295.0 157.8,294.0 157.5,292.2 157.2,293.8 157.0,292.0 156.8,294.3 156.5,295.1 156.2,293.1 156.0,295.7 155.8,293.0 155.5,296.4 155.2,296.5 155.0,293.9 154.8,294.5 154.5,295.6 154.2,293.6 154.0,296.3 153.8,295.0 153.5,295.4 153.2,296.3 153.0,295.7 152.8,297.2 152.5,296.9 152.2,294.0 152.0,297.3 151.8,295.2 151.5,297.2 151.2,298.5 151.0,297.3 150.8,296.3 150.5,295.9 150.2,295.2 150.0,295.7 149.8,295.8 149.5,298.2 149.2,297.1 149.0,296.7 148.8,296.2 148.5,296.0 148.2,296.2 148.0,298.2 147.8,299.6 147.5,295.8 147.2,296.6 147.0,295.2 146.8,296.3 146.5,296.8 146.2,296.5 146.0,297.2 145.8,296.9 145.5,297.5 145.2,297.7 145.0,296.7 144.8,299.3 144.5,297.7 144.2,297.4 144.0,296.1 143.8,296.3 143.5,297.3 143.2,297.2 143.0,299.6 142.8,299.0 142.5,299.9 142.2,300.5 142.0,297.4 141.8,296.9 141.5,295.3 141.2,297.0 141.0,296.9 140.8,296.2 140.5,298.1 140.2,297.3 140.0,298.0 139.8,299.2 139.5,296.8 139.2,297.1 139.0,295.6 138.8,295.1 138.5,294.3 138.2,294.6 138.0,297.0 137.8,297.4 137.5,297.2 137.2,297.1 137.0,298.3 136.8,296.8 136.5,299.3 136.2,297.6 136.0,299.5 135.8,298.1 135.5,298.6 135.2,296.9 135.0,295.1 134.8,295.9 134.5,298.8 134.2,300.1 134.0,299.7 133.8,297.0 133.5,296.7 133.2,297.0 133.0,298.7 132.8,297.4 132.5,296.8 132.2,296.8 132.0,297.0 131.8,299.4 131.5,297.9 131.2,297.2 131.0,296.1 130.8,294.5 130.5,294.5 130.2,294.2 130.0,295.3 129.8,295.5 129.5,295.1 129.2,295.5 129.0,296.0 128.8,297.4 128.5,293.3 128.2,294.1 128.0,294.2 127.8,295.0 127.5,293.8 127.2,294.1 127.0,297.0 126.8,295.9 126.5,295.9 126.2,294.9 126.0,295.3 125.8,296.7 125.5,297.3 125.2,295.8 125.0,295.7 124.8,296.8 124.5,294.9 124.2,295.2 124.0,295.6 123.8,294.3 123.5,294.4 123.2,296.5 123.0,295.1 122.8,294.5 122.5,294.7 122.2,293.3 122.0,293.6 121.8,293.0 121.5,292.4 121.2,293.2 121.0,294.1 120.8,294.4 120.5,293.6 120.2,294.4 120.0,293.1 119.8,293.9 119.5,292.3 119.2,292.7 119.0,291.6 118.8,293.7 118.5,294.2 118.2,293.9 118.0,295.5 117.8,293.3 117.5,291.3 117.2,292.0 117.0,292.2 116.8,291.7 116.5,291.3 116.2,292.3 116.0,292.0 115.8,292.0 115.5,294.1 115.2,295.4 115.0,292.3 114.8,295.1 114.5,292.7 114.2,292.1 114.0,290.8 113.8,291.7 113.5,292.1 113.2,291.7 113.0,295.5 112.8,292.1 112.5,291.6 112.2,292.0 112.0,289.5 111.8,289.3 111.5,288.9 111.2,289.4 111.0,289.4 110.8,291.5 110.5,291.3 110.2,291.9 110.0,291.4 109.8,292.3 109.5,290.8 109.2,291.6 109.0,289.1 108.8,289.4 108.5,289.0 108.2,290.2 108.0,288.5 107.8,290.5 107.5,289.8 107.2,289.2 107.0,290.4 106.8,289.1 106.5,287.2 106.2,286.7 106.0,287.7 105.8,286.2 105.5,288.2 105.2,290.1 105.0,291.1 104.8,289.7 104.5,288.5 104.2,288.8 104.0,290.6 103.8,290.4 103.5,289.3 103.2,287.9 103.0,287.5 102.8,287.7 102.5,286.7 102.2,285.9 102.0,286.9 101.8,286.0 101.5,286.4 101.2,287.9 101.0,288.3 100.8,287.2 100.5,287.0 100.2,286.1 100.0,286.1 99.8,285.9 99.5,284.6 99.2,288.5 99.0,286.6 98.8,285.9 98.5,287.4 98.2,286.5 98.0,286.0 97.8,285.3 97.5,287.2 97.2,285.6 97.0,286.1 96.8,285.1 96.5,283.3 96.2,283.8 96.0,283.1 95.8,282.6 95.5,282.9 95.2,283.3 95.0,284.1 94.8,286.5 94.5,286.1 94.2,286.5 94.0,285.7 93.8,284.6 93.5,284.5 93.2,285.0 93.0,284.0 92.8,284.0 92.5,283.3 92.2,281.6 92.0,281.1 91.8,281.8 91.5,283.4 91.2,284.1 91.0,283.4 90.8,283.8 90.5,282.1 90.2,282.3 90.0,281.3 89.8,282.1 89.5,280.3 89.2,280.5 89.0,279.4 88.8,280.5 88.5,282.2 88.2,279.9 88.0,279.9 87.8,279.7 87.5,279.8 87.2,278.8 87.0,280.4 86.8,279.8 86.5,280.1 86.2,280.9 86.0,278.8 85.8,279.5 85.5,279.1 85.2,278.0 85.0,279.9 84.8,277.3 84.5,278.6 84.2,278.6 84.0,278.5 83.8,280.1 83.5,277.8 83.2,277.6 83.0,277.3 82.8,276.4 82.5,276.7 82.2,276.0 82.0,277.1 81.8,276.9 81.5,276.9 81.2,276.2 81.0,276.0 80.8,275.4 80.5,275.5 80.2,273.4 80.0,274.6 79.8,276.1 79.5,274.5 79.2,274.0 79.0,272.2 78.8,272.6 78.5,272.4 78.2,273.1 78.0,274.0 77.8,274.2 77.5,275.1 77.2,275.0 77.0,274.5 76.8,271.3 76.5,270.9 76.2,270.8 76.0,271.2 75.8,271.3 75.5,271.3 75.2,272.4 75.0,272.1 74.8,272.1 74.5,270.8 74.2,270.7 74.0,271.9 73.8,271.5 73.5,271.4 73.2,271.5 73.0,269.5 72.8,270.8 72.5,270.8 72.2,270.9 72.0,269.4 71.8,269.5 71.5,268.8 71.2,268.9 71.0,268.4 70.8,269.0 70.5,268.4 70.2,268.2 70.0,269.2 69.8,268.6 69.5,269.1 69.2,269.4 69.0,268.2 68.8,268.8 68.5,267.9 68.2,267.5 68.0,267.6 67.8,265.8 67.5,264.9 67.2,265.0 67.0,265.5 66.8,266.5 66.5,266.6 66.2,265.4 66.0,266.3 65.8,267.2 65.5,265.8 65.2,267.2 65.0,265.2 64.8,263.8 64.5,263.4 64.2,264.3 64.0,263.6 63.8,263.4 63.5,261.7 63.2,262.3 63.0,261.3 62.8,262.8 62.5,262.3 62.2,261.2 62.0,261.9 61.8,261.0 61.5,261.2 61.2,261.1 61.0,259.7 60.8,259.0 60.5,258.9 60.2,258.5 60.0,258.4 59.8,258.0 59.5,257.3 59.2,257.0 59.0,257.3 58.8,257.3 58.5,257.2 58.2,256.1 58.0,256.4 57.8,256.2 57.5,256.5 57.2,256.2 57.0,255.2 56.8,253.9 56.5,253.9 56.2,253.7 56.0,253.3 55.8,252.1 55.5,252.9 55.2,251.1 55.0,250.0 54.8,250.1 54.5,249.9 54.2,250.0 54.0,251.4 53.8,252.1 53.5,250.8 53.2,250.1 53.0,249.5 52.8,250.1 52.5,248.6 52.2,247.7 52.0,248.6 51.8,248.2 51.5,248.0 51.2,248.4 51.0,247.6 50.8,247.5 50.5,246.8 50.2,246.2 50.0,246.0 49.8,244.7 49.5,245.1 49.2,243.5 49.0,243.3 48.8,243.6 48.5,243.1 48.2,243.2 48.0,243.5 47.8,241.8 47.5,240.8 47.2,239.6 47.0,239.3 46.8,238.7 46.5,239.3 46.2,239.8 46.0,239.4 45.8,239.8 45.5,239.6 45.2,238.5 45.0,236.9 44.8,236.3 44.5,235.1 44.2,234.8 44.0,234.7 43.8,233.9 43.5,234.1 43.2,233.5 43.0,232.8 42.8,232.8 42.5,233.1 42.2,232.5 42.0,232.1 41.8,230.6 41.5,230.3 41.2,229.4 41.0,229.0 40.8,229.9 40.5,230.0 40.2,229.7 40.0,229.9 39.8,228.5 39.5,228.7 39.2,228.3 39.0,227.6 38.8,227.2 38.5,227.3 38.2,227.8 38.0,226.8 37.8,227.0 37.5,226.2 37.2,225.6 37.0,225.4 36.8,225.7 36.5,224.8 36.2,225.6 36.0,225.8 35.8,226.2 35.5,225.7 35.2,225.0 35.0,224.3 34.8,223.6 34.5,224.5 34.2,223.9 34.0,223.6 33.8,223.0 33.5,222.9 33.2,223.3 33.0,223.6 32.8,223.8 32.5,223.6" fill="#c4586c"/>
<line x1="104.86" y1="281.00" x2="104.86" y2="273.50" stroke="#c4586c" stroke-width="0.5" />
<line x1="127.64" y1="296.00" x2="127.64" y2="300.00" stroke="#c4586c" stroke-width="0.5" />
<polyline points="186.50,251.10 188.09,251.75 189.69,252.39 191.28,253.03 192.88,253.67 194.47,254.31 196.07,254.95 197.66,255.59 199.26,256.23 200.85,256.86 202.44,257.50 204.04,258.13 205.63,258.77 207.23,259.40 208.82,260.04 210.42,260.68 212.01,261.31 213.61,261.95 215.20,262.59 216.79,263.23 218.39,263.87 219.98,264.51 221.58,265.15 223.17,265.79 224.77,266.44 226.36,267.09 227.96,267.74 229.55,268.39 231.14,269.05 232.74,269.70 234.33,270.36 235.93,271.03 237.52,271.69 239.12,272.36 240.71,273.04 242.31,273.71 243.90,274.39 245.49,275.07 247.09,275.75 248.68,276.43 250.28,277.10 251.87,277.78 253.47,278.47 255.06,279.15 256.65,279.85 258.25,280.55 259.84,281.25 261.44,281.97 263.03,282.70 264.63,283.43 266.22,284.18 267.82,284.95 269.41,285.73 271.00,286.52 272.60,287.33 274.19,288.17 275.79,289.04 277.38,289.96 278.98,290.90 280.57,291.88 282.17,292.87 283.76,293.88 285.35,294.90 286.95,295.93 288.54,296.97 290.14,298.02 291.73,299.08 293.33,300.17 294.92,301.27 296.52,302.39 298.11,303.52 299.70,304.68 301.30,305.86 302.89,307.07 304.49,308.33 306.08,309.63 307.68,310.97 309.27,312.32 310.87,313.67 312.46,315.00" fill="none" stroke="#505050" stroke-width="0.8" stroke-linejoin="round" />
<polygon points="186.5,221.9 186.8,222.7 187.0,222.6 187.2,223.0 187.5,223.8 187.8,222.9 188.0,222.4 188.2,222.8 188.5,222.5 188.8,222.7 189.0,222.6 189.2,222.8 189.5,223.5 189.8,223.5 190.0,223.6 190.2,224.1 190.5,224.8 190.8,224.5 191.0,225.6 191.2,225.1 191.5,224.3 191.8,224.3 192.0,224.7 192.2,225.5 192.5,226.2 192.8,226.7 193.0,226.6 193.2,226.7 193.5,226.4 193.8,227.2 194.0,227.2 194.2,227.7 194.5,227.8 194.8,227.4 195.0,228.2 195.2,228.6 195.5,229.0 195.8,229.7 196.0,230.5 196.2,230.5 196.5,230.1 196.8,230.3 197.0,230.5 197.2,230.9 197.5,231.5 197.8,232.4 198.0,233.0 198.2,232.5 198.5,232.7 198.8,232.9 199.0,233.1 199.2,232.6 199.5,233.6 199.8,233.0 200.0,234.0 200.2,234.3 200.5,235.7 200.8,236.6 201.0,236.5 201.2,236.8 201.5,236.4 201.8,236.4 202.0,236.3 202.2,237.2 202.5,237.1 202.8,237.3 203.0,238.4 203.2,237.3 203.5,237.5 203.8,236.9 204.0,237.8 204.2,239.3 204.5,239.6 204.8,240.0 205.0,238.5 205.2,239.2 205.5,239.7 205.8,239.3 206.0,240.9 206.2,241.5 206.5,242.1 206.8,242.9 207.0,243.6 207.2,242.7 207.5,243.7 207.8,243.6 208.0,243.1 208.2,242.9 208.5,242.1 208.8,243.2 209.0,243.5 209.2,243.4 209.5,244.0 209.8,242.3 210.0,243.9 210.2,244.7 210.5,244.7 210.8,244.7 211.0,245.9 211.2,246.9 211.5,246.7 211.8,246.5 212.0,247.0 212.2,246.5 212.5,247.5 212.8,246.9 213.0,249.5 213.2,248.8 213.5,248.2 213.8,249.2 214.0,248.3 214.2,248.9 214.5,249.0 214.8,248.6 215.0,247.5 215.2,246.9 215.5,249.1 215.8,250.1 216.0,250.2 216.2,251.3 216.5,251.1 216.8,251.5 217.0,251.4 217.2,250.5 217.5,249.3 217.8,250.0 218.0,250.1 218.2,250.4 218.5,251.2 218.8,251.1 219.0,252.5 219.2,253.1 219.5,252.9 219.8,253.9 220.0,255.0 220.2,256.6 220.5,256.9 220.8,257.5 221.0,258.0 221.2,258.1 221.5,258.2 221.8,258.4 222.0,258.1 222.2,256.5 222.5,256.0 222.8,255.8 223.0,256.4 223.2,256.5 223.5,256.6 223.8,257.6 224.0,257.0 224.2,257.4 224.5,258.1 224.8,258.5 225.0,258.9 225.2,260.0 225.5,260.5 225.8,259.2 226.0,260.2 226.2,258.9 226.5,259.8 226.8,260.7 227.0,260.5 227.2,260.7 227.5,260.5 227.8,260.9 228.0,261.6 228.2,261.3 228.5,261.4 228.8,261.7 229.0,261.7 229.2,261.6 229.5,262.8 229.8,262.4 230.0,263.7 230.2,262.9 230.5,262.4 230.8,263.1 231.0,261.8 231.2,262.9 231.5,263.8 231.8,263.6 232.0,264.8 232.2,261.9 232.5,263.6 232.8,264.1 233.0,264.6 233.2,264.8 233.5,264.5 233.8,264.7 234.0,265.9 234.2,266.2 234.5,265.8 234.8,267.2 235.0,266.7 235.2,265.8 235.5,266.5 235.8,268.1 236.0,266.8 236.2,267.8 236.5,267.8 236.8,266.3 237.0,266.2 237.2,266.5 237.5,267.4 237.8,267.3 238.0,269.3 238.2,268.2 238.5,270.4 238.8,268.9 239.0,269.0 239.2,268.1 239.5,267.1 239.8,267.6 240.0,268.8 240.2,268.3 240.5,268.6 240.8,269.3 241.0,269.1 241.2,269.0 241.5,268.5 241.8,268.6 242.0,270.5 242.2,269.5 242.5,270.8 242.8,271.5 243.0,270.9 243.2,270.5 243.5,272.0 243.8,270.2 244.0,271.4 244.2,270.4 244.5,271.5 244.8,272.0 245.0,272.5 245.2,271.8 245.5,271.5 245.8,271.4 246.0,270.6 246.2,270.3 246.5,271.4 246.8,271.3 247.0,271.5 247.2,271.7 247.5,272.2 247.8,271.2 248.0,271.1 248.2,271.1 248.5,272.0 248.8,273.3 249.0,272.6 249.2,274.3 249.5,274.2 249.8,275.7 250.0,275.3 250.2,274.0 250.5,275.7 250.8,273.9 251.0,274.0 251.2,275.0 251.5,272.6 251.8,275.5 252.0,273.1 252.2,273.3 252.5,275.1 252.8,274.3 253.0,276.3 253.2,276.6 253.5,275.8 253.8,276.0 254.0,276.3 254.2,275.5 254.5,275.5 254.8,275.0 255.0,274.3 255.2,274.6 255.5,275.5 255.8,274.8 256.0,275.4 256.2,275.7 256.5,275.1 256.8,275.3 257.0,274.7 257.2,274.9 257.5,277.0 257.8,277.1 258.0,275.4 258.2,275.8 258.5,276.2 258.8,276.2 259.0,276.1 259.2,276.8 259.5,275.3 259.8,276.5 260.0,277.2 260.2,278.4 260.5,278.4 260.8,277.8 261.0,278.2 261.2,278.0 261.5,278.5 261.8,279.0 262.0,279.8 262.2,278.7 262.5,279.2 262.8,279.3 263.0,279.0 263.2,279.2 263.5,277.2 263.8,277.9 264.0,280.2 264.2,280.3 264.5,280.1 264.8,280.5 265.0,281.5 265.2,282.4 265.5,281.2 265.8,280.4 266.0,281.1 266.2,278.3 266.5,279.9 266.8,279.2 267.0,280.6 267.2,279.1 267.5,278.1 267.8,278.3 268.0,280.5 268.2,280.6 268.5,281.0 268.8,281.5 269.0,281.5 269.2,281.5 269.5,283.3 269.8,281.0 270.0,283.4 270.2,283.7 270.5,281.8 270.8,282.2 271.0,279.4 271.2,282.0 271.5,281.2 271.8,283.1 272.0,280.1 272.2,280.3 272.5,282.0 272.8,281.9 273.0,282.0 273.2,282.0 273.5,283.4 273.8,284.6 274.0,284.3 274.2,285.8 274.5,285.7 274.8,286.1 275.0,284.9 275.2,284.3 275.5,283.0 275.8,284.1 276.0,283.8 276.2,284.2 276.5,285.0 276.8,284.1 277.0,284.8 277.2,285.3 277.5,286.8 277.8,285.2 278.0,284.6 278.2,284.8 278.5,284.9 278.8,284.1 279.0,285.3 279.2,285.9 279.5,284.5 279.8,286.7 280.0,286.0 280.2,284.9 280.5,287.8 280.8,287.4 281.0,285.8 281.2,287.3 281.5,285.9 281.8,287.0 282.0,287.1 282.2,289.9 282.5,288.8 282.8,287.5 283.0,287.2 283.2,285.7 283.5,287.4 283.8,287.4 284.0,286.4 284.2,288.0 284.5,289.3 284.8,286.4 285.0,287.5 285.2,288.5 285.5,288.9 285.8,289.8 286.0,290.6 286.2,288.3 286.5,288.6 286.8,288.6 287.0,288.3 287.2,289.5 287.5,288.2 287.8,288.2 288.0,287.8 288.2,286.7 288.5,286.5 288.8,289.0 289.0,287.8 289.2,284.6 289.5,287.6 289.8,285.2 290.0,286.7 290.2,289.0 290.5,289.5 290.8,288.7 291.0,289.8 291.2,291.1 291.5,289.1 291.8,288.7 292.0,291.6 292.2,291.0 292.5,289.4 292.8,288.9 293.0,290.8 293.2,289.4 293.5,290.2 293.8,290.2 294.0,291.4 294.2,289.2 294.5,289.5 294.8,289.9 295.0,291.8 295.2,291.2 295.5,292.7 295.8,292.1 296.0,291.4 296.2,291.3 296.5,289.7 296.8,288.4 297.0,291.8 297.2,290.9 297.5,293.3 297.8,292.9 298.0,290.2 298.2,291.4 298.5,290.4 298.8,291.0 299.0,292.2 299.2,291.9 299.5,291.2 299.8,292.2 300.0,292.9 300.2,291.2 300.5,291.8 300.8,289.5 301.0,287.2 301.2,292.4 301.5,291.5 301.8,293.2 302.0,292.2 302.2,293.6 302.5,293.2 302.8,293.5 303.0,292.5 303.2,292.9 303.5,291.4 303.8,290.8 304.0,291.3 304.2,293.4 304.5,293.9 304.8,292.1 305.0,294.0 305.2,293.9 305.5,294.3 305.8,292.5 306.0,293.8 306.2,293.0 306.5,293.5 306.8,292.8 307.0,294.0 307.2,293.2 307.5,295.0 307.8,292.8 308.0,293.8 308.2,293.6 308.5,291.5 308.8,292.9 309.0,291.5 309.2,291.6 309.5,291.4 309.8,290.7 310.0,293.3 310.2,291.6 310.5,293.6 310.8,292.4 311.0,293.2 311.2,296.4 311.5,294.1 311.8,296.7 312.0,295.8 312.2,293.1 312.5,294.8 312.8,294.2 313.0,292.7 313.2,294.4 313.5,291.6 313.8,295.1 314.0,294.4 314.2,292.6 314.5,293.3 314.8,295.7 315.0,292.6 315.2,294.5 315.5,294.9 315.8,293.7 316.0,294.1 316.2,293.1 316.5,292.4 316.8,293.2 317.0,292.1 317.2,293.3 317.5,294.5 317.8,295.3 318.0,295.1 318.2,293.9 318.5,296.0 318.8,296.2 319.0,294.7 319.2,294.5 319.5,294.4 319.8,297.9 320.0,298.4 320.2,298.7 320.5,296.2 320.5,304.4 320.2,303.5 320.0,306.7 319.8,303.8 319.5,303.7 319.2,301.8 319.0,302.5 318.8,302.8 318.5,301.6 318.2,302.3 318.0,301.1 317.8,302.0 317.5,301.7 317.2,303.1 317.0,300.9 316.8,300.5 316.5,301.3 316.2,300.4 316.0,299.9 315.8,301.4 315.5,299.4 315.2,300.1 315.0,304.7 314.8,301.0 314.5,306.5 314.2,302.9 314.0,300.2 313.8,300.2 313.5,300.2 313.2,300.3 313.0,301.5 312.8,300.6 312.5,301.0 312.2,302.5 312.0,302.3 311.8,303.5 311.5,302.3 311.2,303.5 311.0,300.4 310.8,299.3 310.5,300.8 310.2,298.5 310.0,298.5 309.8,298.3 309.5,297.9 309.2,298.4 309.0,299.1 308.8,300.9 308.5,298.8 308.2,300.2 308.0,298.6 307.8,300.2 307.5,300.5 307.2,299.8 307.0,299.5 306.8,299.0 306.5,300.6 306.2,301.3 306.0,302.4 305.8,298.8 305.5,300.0 305.2,299.1 305.0,299.9 304.8,299.2 304.5,298.1 304.2,300.5 304.0,298.2 303.8,299.8 303.5,298.3 303.2,298.9 303.0,298.1 302.8,299.8 302.5,299.8 302.2,300.4 302.0,298.2 301.8,298.0 301.5,297.0 301.2,299.1 301.0,296.3 300.8,297.6 300.5,296.1 300.2,298.4 300.0,298.8 299.8,298.5 299.5,300.2 299.2,299.7 299.0,297.3 298.8,297.8 298.5,298.9 298.2,296.6 298.0,297.0 297.8,298.1 297.5,299.7 297.2,297.9 297.0,296.0 296.8,298.7 296.5,295.5 296.2,296.1 296.0,295.8 295.8,297.7 295.5,296.6 295.2,298.3 295.0,295.9 294.8,294.7 294.5,293.9 294.2,296.8 294.0,297.5 293.8,296.0 293.5,296.4 293.2,297.2 293.0,297.4 292.8,296.7 292.5,295.3 292.2,295.6 292.0,296.5 291.8,296.7 291.5,295.6 291.2,296.1 291.0,294.8 290.8,294.9 290.5,295.7 290.2,295.6 290.0,292.8 289.8,292.5 289.5,293.5 289.2,292.2 289.0,293.7 288.8,293.0 288.5,293.6 288.2,292.9 288.0,294.4 287.8,293.3 287.5,293.4 287.2,295.2 287.0,294.1 286.8,295.7 286.5,294.2 286.2,293.6 286.0,294.1 285.8,293.7 285.5,293.0 285.2,293.0 285.0,293.6 284.8,291.6 284.5,294.0 284.2,294.7 284.0,290.9 283.8,292.3 283.5,291.6 283.2,291.7 283.0,292.3 282.8,293.4 282.5,294.9 282.2,293.3 282.0,292.3 281.8,291.7 281.5,291.4 281.2,291.0 281.0,291.7 280.8,291.3 280.5,291.3 280.2,290.5 280.0,291.0 279.8,290.7 279.5,290.6 279.2,290.8 279.0,289.0 278.8,289.8 278.5,289.5 278.2,290.4 278.0,290.9 277.8,290.8 277.5,291.4 277.2,290.5 277.0,288.7 276.8,288.4 276.5,289.2 276.2,290.3 276.0,288.3 275.8,289.8 275.5,289.9 275.2,291.9 275.0,289.0 274.8,289.4 274.5,292.0 274.2,289.4 274.0,287.9 273.8,291.5 273.5,287.7 273.2,288.3 273.0,287.4 272.8,288.7 272.5,286.1 272.2,285.7 272.0,286.4 271.8,286.8 271.5,287.3 271.2,286.7 271.0,285.1 270.8,286.0 270.5,286.1 270.2,288.6 270.0,287.8 269.8,286.2 269.5,286.9 269.2,286.4 269.0,285.1 268.8,285.8 268.5,285.0 268.2,286.3 268.0,283.4 267.8,284.4 267.5,282.4 267.2,282.8 267.0,283.9 266.8,284.7 266.5,282.9 266.2,283.5 266.0,284.0 265.8,283.9 265.5,285.5 265.2,286.2 265.0,285.4 264.8,287.6 264.5,285.3 264.2,285.8 264.0,283.7 263.8,283.5 263.5,282.6 263.2,282.5 263.0,282.3 262.8,283.2 262.5,282.9 262.2,283.5 262.0,286.2 261.8,283.1 261.5,283.2 261.2,281.7 261.0,282.5 260.8,282.4 260.5,282.8 260.2,282.9 260.0,279.9 259.8,283.2 259.5,279.0 259.2,280.2 259.0,279.1 258.8,280.1 258.5,279.0 258.2,279.6 258.0,279.7 257.8,281.1 257.5,281.2 257.2,278.8 257.0,280.2 256.8,278.8 256.5,279.3 256.2,280.4 256.0,279.4 255.8,280.5 255.5,279.1 255.2,279.8 255.0,279.3 254.8,280.1 254.5,279.4 254.2,279.7 254.0,278.8 253.8,279.2 253.5,279.0 253.2,280.3 253.0,280.0 252.8,278.7 252.5,277.5 252.2,278.5 252.0,277.6 251.8,277.9 251.5,277.2 251.2,277.8 251.0,277.8 250.8,277.5 250.5,278.4 250.2,278.0 250.0,278.5 249.8,278.9 249.5,277.8 249.2,278.1 249.0,278.0 248.8,278.2 248.5,275.2 248.2,274.9 248.0,275.9 247.8,274.0 247.5,275.3 247.2,275.0 247.0,275.5 246.8,275.3 246.5,274.4 246.2,274.5 246.0,274.3 245.8,274.0 245.5,274.8 245.2,274.6 245.0,276.1 244.8,274.5 244.5,275.1 244.2,275.2 244.0,274.2 243.8,274.6 243.5,275.0 243.2,274.9 243.0,274.5 242.8,274.9 242.5,273.6 242.2,273.1 242.0,273.9 241.8,272.7 241.5,272.2 241.2,273.7 241.0,272.6 240.8,272.0 240.5,272.5 240.2,272.8 240.0,272.5 239.8,271.3 239.5,271.4 239.2,271.8 239.0,272.3 238.8,272.8 238.5,274.9 238.2,271.9 238.0,271.4 237.8,270.3 237.5,269.7 237.2,269.4 237.0,268.6 236.8,269.9 236.5,270.8 236.2,272.0 236.0,270.9 235.8,271.3 235.5,270.1 235.2,269.9 235.0,270.8 234.8,269.7 234.5,269.7 234.2,269.6 234.0,267.9 233.8,266.9 233.5,267.1 233.2,268.2 233.0,267.2 232.8,268.0 232.5,266.2 232.2,266.5 232.0,266.9 231.8,266.2 231.5,266.6 231.2,265.7 231.0,264.9 230.8,266.2 230.5,266.2 230.2,266.8 230.0,266.7 229.8,265.8 229.5,265.9 229.2,265.0 229.0,263.8 228.8,264.1 228.5,263.6 228.2,263.8 228.0,264.4 227.8,263.3 227.5,263.3 227.2,264.3 227.0,262.9 226.8,262.5 226.5,261.6 226.2,262.3 226.0,262.4 225.8,262.8 225.5,262.9 225.2,262.9 225.0,262.0 224.8,261.4 224.5,261.1 224.2,260.0 224.0,259.8 223.8,259.3 223.5,258.6 223.2,259.6 223.0,258.7 222.8,258.9 222.5,258.5 222.2,258.7 222.0,261.1 221.8,261.1 221.5,260.6 221.2,259.7 221.0,259.7 220.8,260.4 220.5,259.4 220.2,258.8 220.0,257.2 219.8,255.9 219.5,255.7 219.2,255.3 219.0,254.6 218.8,253.4 218.5,253.2 218.2,252.7 218.0,251.9 217.8,252.8 217.5,251.8 217.2,252.9 217.0,253.5 216.8,254.3 216.5,254.1 216.2,253.8 216.0,253.2 215.8,253.1 215.5,252.4 215.2,251.0 215.0,250.1 214.8,250.0 214.5,251.0 214.2,251.3 214.0,250.9 213.8,251.9 213.5,250.5 213.2,250.6 213.0,251.1 212.8,250.5 212.5,249.8 212.2,249.2 212.0,248.6 211.8,248.1 211.5,248.8 211.2,249.1 211.0,247.4 210.8,247.4 210.5,246.6 210.2,247.0 210.0,246.2 209.8,245.4 209.5,246.5 209.2,245.7 209.0,245.3 208.8,244.8 208.5,244.6 208.2,244.3 208.0,244.8 207.8,245.5 207.5,245.7 207.2,245.4 207.0,244.9 206.8,244.5 206.5,244.0 206.2,243.7 206.0,242.1 205.8,242.2 205.5,241.5 205.2,241.4 205.0,240.7 204.8,242.0 204.5,241.4 204.2,241.7 204.0,239.1 203.8,238.4 203.5,239.2 203.2,239.4 203.0,240.2 202.8,239.3 202.5,238.9 202.2,238.5 202.0,237.9 201.8,238.3 201.5,238.0 201.2,238.0 201.0,238.2 200.8,238.3 200.5,237.4 200.2,236.3 200.0,235.3 199.8,234.8 199.5,235.0 199.2,235.3 199.0,235.8 198.8,234.8 198.5,235.3 198.2,234.4 198.0,234.0 197.8,233.9 197.5,233.4 197.2,232.2 197.0,231.6 196.8,232.1 196.5,232.0 196.2,231.7 196.0,231.8 195.8,231.4 195.5,230.6 195.2,229.9 195.0,229.9 194.8,229.3 194.5,229.4 194.2,229.1 194.0,228.7 193.8,228.3 193.5,228.2 193.2,228.0 193.0,228.3 192.8,228.0 192.5,227.5 192.2,226.7 192.0,226.2 191.8,225.9 191.5,225.7 191.2,226.0 191.0,226.7 190.8,225.8 190.5,225.7 190.2,225.2 190.0,224.9 189.8,224.8 189.5,224.4 189.2,224.0 189.0,224.1 188.8,223.8 188.5,223.8 188.2,224.4 188.0,224.2 187.8,224.0 187.5,225.5 187.2,224.1 187.0,223.9 186.8,223.9 186.5,222.8" fill="#52ae86"/>
<polyline points="340.50,239.40 342.20,240.08 343.89,240.75 345.59,241.42 347.28,242.10 348.98,242.76 350.68,243.43 352.37,244.10 354.07,244.76 355.77,245.43 357.46,246.10 359.16,246.76 360.85,247.43 362.55,248.09 364.25,248.76 365.94,249.43 367.64,250.10 369.34,250.78 371.03,251.45 372.73,252.13 374.42,252.81 376.12,253.50 377.82,254.19 379.51,254.88 381.21,255.57 382.91,256.28 384.60,256.98 386.30,257.69 387.99,258.41 389.69,259.13 391.39,259.86 393.08,260.59 394.78,261.33 396.47,262.08 398.17,262.83 399.87,263.59 401.56,264.37 403.26,265.15 404.96,265.94 406.65,266.74 408.35,267.56 410.04,268.39 411.74,269.23 413.44,270.09 415.13,270.95 416.83,271.84 418.53,272.73 420.22,273.64 421.92,274.57 423.61,275.51 425.31,276.47 427.01,277.44 428.70,278.44 430.40,279.46 432.09,280.50 433.79,281.56 435.49,282.64 437.18,283.73 438.88,284.84 440.58,285.96 442.27,287.10 443.97,288.24 445.66,289.40 447.36,290.59 449.06,291.81 450.75,293.05 452.45,294.30 454.15,295.55 455.84,296.81 457.54,298.06 459.23,299.31 460.93,300.53 462.63,301.73 464.32,302.91 466.02,304.07 467.72,305.22 469.41,306.37 471.11,307.51 472.80,308.65 474.50,309.80" fill="none" stroke="#747474" stroke-width="0.8" stroke-linejoin="round" />
<polyline points="340.50,203.90 340.82,204.43 341.14,204.81 341.46,205.78 341.78,206.31 342.10,206.93 342.42,207.26 342.74,208.21 343.06,208.92 343.38,209.43 343.70,210.42 344.02,211.35 344.34,211.49 344.66,212.16 344.98,213.02 345.30,213.09 345.62,213.90 345.94,213.64 346.26,214.32 346.58,215.20 346.90,215.45 347.22,215.69 347.54,216.38 347.86,216.63 348.18,217.08 348.50,217.22 348.82,217.79 349.13,218.21 349.45,218.35 349.77,218.25 350.09,219.23 350.41,220.37 350.73,219.20 351.05,220.10 351.37,220.67 351.69,221.18 352.01,221.80 352.33,222.13 352.65,222.57 352.97,222.96 353.29,222.70 353.61,223.23 353.93,223.45 354.25,224.08 354.57,224.18 354.89,224.36 355.21,225.55 355.53,225.27 355.85,225.46 356.17,226.24 356.49,225.96 356.81,226.50 357.13,226.77 357.45,226.72 357.77,226.84 358.09,227.94 358.41,228.08 358.73,228.40 359.05,229.15 359.37,228.96 359.69,230.05 360.01,229.34 360.33,229.32 360.65,230.40 360.97,230.89 361.29,231.57 361.61,231.22 361.93,231.56 362.25,231.92 362.57,232.99 362.89,232.01 363.21,232.94 363.53,233.11 363.85,233.10 364.17,233.55 364.49,233.96 364.81,233.93 365.13,234.45 365.45,234.90 365.76,235.18 366.08,235.07 366.40,235.38 366.72,235.72 367.04,236.21 367.36,236.25 367.68,236.81 368.00,236.85 368.32,236.47 368.64,237.50 368.96,237.25 369.28,237.85 369.60,237.94 369.92,238.48 370.24,238.48 370.56,238.77 370.88,238.50 371.20,239.67 371.52,239.55 371.84,239.70 372.16,240.49 372.48,240.56 372.80,240.77 373.12,241.14 373.44,241.33 373.76,241.31 374.08,241.58 374.40,242.57 374.72,242.96 375.04,243.16 375.36,243.45 375.68,244.02 376.00,244.45 376.32,244.61 376.64,245.16 376.96,245.52 377.28,245.48 377.60,246.28 377.92,246.13 378.24,246.15 378.56,247.44 378.88,247.51 379.20,248.62 379.52,248.06 379.84,249.12 380.16,249.16 380.48,249.71 380.80,249.69 381.12,251.13 381.44,250.71 381.76,251.79 382.08,251.53 382.39,251.56 382.71,252.06 383.03,253.11 383.35,252.97 383.67,253.60 383.99,254.44 384.31,254.80 384.63,254.61 384.95,255.26 385.27,256.24 385.59,256.01 385.91,256.83 386.23,256.95 386.55,256.82 386.87,257.54 387.19,257.48 387.51,257.86 387.83,257.69 388.15,258.20 388.47,258.06 388.79,258.42 389.11,257.88 389.43,258.20 389.75,258.62 390.07,258.72 390.39,258.69 390.71,258.68 391.03,258.24 391.35,258.63 391.67,258.72 391.99,258.64 392.31,258.81 392.63,258.51 392.95,258.92 393.27,258.64 393.59,258.52 393.91,258.38 394.23,259.22 394.55,258.59 394.87,258.72 395.19,258.64 395.51,259.82 395.83,259.88 396.15,259.19 396.47,259.01 396.79,259.46 397.11,259.64 397.43,259.84 397.75,260.25 398.07,259.99 398.39,260.43 398.71,260.75 399.03,260.91 399.34,261.09 399.66,260.98 399.98,261.28 400.30,261.73 400.62,261.30 400.94,262.15 401.26,261.91 401.58,262.49 401.90,261.84 402.22,262.67 402.54,262.54 402.86,263.20 403.18,263.01 403.50,262.91 403.82,263.65 404.14,263.33 404.46,263.41 404.78,263.64 405.10,263.85 405.42,264.06 405.74,264.27 406.06,264.93 406.38,265.13 406.70,265.39 407.02,265.77 407.34,265.53 407.66,265.49 407.98,265.29 408.30,265.70 408.62,266.00 408.94,266.58 409.26,266.07 409.58,267.01 409.90,267.17 410.22,266.67 410.54,266.79 410.86,267.09 411.18,266.94 411.50,266.97 411.82,267.34 412.14,267.93 412.46,266.91 412.78,268.32 413.10,268.88 413.42,268.84 413.74,269.17 414.06,267.83 414.38,268.11 414.70,269.47 415.02,268.97 415.34,269.47 415.66,268.98 415.97,269.21 416.29,268.37 416.61,268.52 416.93,269.10 417.25,268.41 417.57,267.94 417.89,268.05 418.21,266.69 418.53,265.77 418.85,265.85 419.17,265.83 419.49,266.63 419.81,264.92 420.13,265.86 420.45,265.77 420.77,266.04 421.09,266.63 421.41,265.90 421.73,266.86 422.05,265.81 422.37,267.53 422.69,267.38 423.01,266.71 423.33,266.22 423.65,268.01 423.97,268.25 424.29,270.22 424.61,270.44 424.93,268.16 425.25,269.73 425.57,268.96 425.89,269.01 426.21,268.18 426.53,269.04 426.85,269.61 427.17,268.88 427.49,269.97 427.81,269.58 428.13,270.98 428.45,270.24 428.77,270.02 429.09,269.81 429.41,269.40 429.73,270.59 430.05,269.31 430.37,270.50 430.69,269.85 431.01,270.07 431.33,271.78 431.65,270.67 431.97,270.74 432.29,269.70 432.61,270.13 432.92,270.33 433.24,269.48 433.56,269.30 433.88,270.49 434.20,271.55 434.52,269.17 434.84,270.51 435.16,269.72 435.48,270.94 435.80,270.86 436.12,269.25 436.44,269.36 436.76,271.12 437.08,270.86 437.40,271.10 437.72,271.42 438.04,271.52 438.36,273.32 438.68,271.36 439.00,271.02 439.32,270.67 439.64,272.83 439.96,272.27 440.28,270.42 440.60,269.98 440.92,269.99 441.24,272.28 441.56,272.47 441.88,271.53 442.20,269.09 442.52,269.74 442.84,271.79 443.16,271.33 443.48,271.48 443.80,271.14 444.12,270.79 444.44,271.77 444.76,271.18 445.08,269.26 445.40,270.71 445.72,271.78 446.04,270.91 446.36,272.27 446.68,273.60 447.00,269.64 447.32,275.61 447.64,270.77 447.96,271.20 448.28,272.19 448.60,269.53 448.92,271.53 449.24,271.43 449.55,270.68 449.87,271.81 450.19,270.48 450.51,271.47 450.83,269.19 451.15,272.21 451.47,272.72 451.79,273.96 452.11,270.37 452.43,272.28 452.75,271.01 453.07,272.76 453.39,269.15 453.71,270.47 454.03,271.28 454.35,273.78 454.67,268.88 454.99,272.49 455.31,271.33 455.63,271.94 455.95,270.53 456.27,269.03 456.59,273.27 456.91,269.60 457.23,271.45 457.55,269.53 457.87,271.53 458.19,272.93 458.51,271.50 458.83,269.94 459.15,270.67 459.47,271.40 459.79,268.39 460.11,271.60 460.43,270.89 460.75,270.12 461.07,271.54 461.39,271.45 461.71,270.57 462.03,270.15 462.35,269.43 462.67,271.28 462.99,273.61 463.31,271.65 463.63,272.01 463.95,267.89 464.27,267.27 464.59,271.96 464.91,269.24 465.23,273.17 465.55,270.06 465.87,270.22 466.18,271.60 466.50,269.68 466.82,264.98 467.14,274.14 467.46,271.66 467.78,276.79 468.10,271.26 468.42,269.83 468.74,270.38 469.06,273.19 469.38,277.16 469.70,281.11 470.02,284.72 470.34,274.01 470.66,270.78 470.98,273.69 471.30,264.52 471.62,271.67 471.94,270.71 472.26,274.10 472.58,279.02 472.90,284.52 473.22,269.83 473.54,274.47 473.86,266.29 474.18,270.63 474.50,269.48" fill="none" stroke="#2079c2" stroke-width="1.1" stroke-linejoin="round" />
<line x1="105.00" y1="248.50" x2="114.40" y2="248.50" stroke="#d88c9a" stroke-width="1.2" />
<text transform="translate(118.80,251.50) scale(0.975,1)" font-size="8.1" text-anchor="start" >Locked</text>
<line x1="105.40" y1="262.30" x2="114.60" y2="262.30" stroke="#666" stroke-width="0.8" />
<text transform="translate(118.80,265.00) scale(0.975,1)" font-size="8.1" text-anchor="start" >TRN</text>
<line x1="260.30" y1="251.50" x2="269.80" y2="251.50" stroke="#86c8a8" stroke-width="1.2" />
<text transform="translate(273.60,254.80) scale(0.975,1)" font-size="8.1" text-anchor="start" >Locked</text>
<line x1="260.30" y1="264.70" x2="269.80" y2="264.70" stroke="#666" stroke-width="0.8" />
<text transform="translate(273.60,267.50) scale(0.975,1)" font-size="8.1" text-anchor="start" >TRN</text>
<line x1="420.00" y1="244.80" x2="429.00" y2="244.80" stroke="#4c98d8" stroke-width="0.9" />
<text transform="translate(434.70,247.60) scale(0.975,1)" font-size="8.1" text-anchor="start" >Locked</text>
<line x1="420.00" y1="257.90" x2="429.00" y2="257.90" stroke="#999" stroke-width="0.8" />
<text transform="translate(434.70,260.70) scale(0.975,1)" font-size="8.1" text-anchor="start" >TRN</text>
<defs><filter id="bl3" x="-30%" y="-30%" width="160%" height="160%"><feGaussianBlur stdDeviation="1.3"/></filter><filter id="bl4" x="-30%" y="-30%" width="160%" height="160%"><feGaussianBlur stdDeviation="0.45"/></filter><filter id="bl5" x="-30%" y="-30%" width="160%" height="160%"><feGaussianBlur stdDeviation="2.4"/></filter><clipPath id="cd1"><rect x="66.9" y="188.1" width="87.1" height="46.7"/></clipPath><clipPath id="cd2"><rect x="227.7" y="188.1" width="78.1" height="46.7"/></clipPath><clipPath id="cd3"><rect x="381.2" y="187.3" width="78.4" height="46.3"/></clipPath></defs>
<g clip-path="url(#cd1)">
<rect x="66" y="187" width="89" height="49" fill="#2e0307"/>
<g filter="url(#bl5)">
<rect x="66" y="206" width="90" height="13" fill="#52080e"/>
<rect x="130" y="209" width="26" height="25" fill="#820d16"/>
<rect x="71.5" y="186" width="4" height="50" fill="#7c0e16"/>
</g>
<g filter="url(#bl3)">
<path d="M74.21,212.65L138.51,212.65" stroke="#e81c2c" stroke-width="1.5"/>
<circle cx="82.35" cy="212.65" r="2.6" fill="#ff5050"/>
<circle cx="126.30" cy="212.65" r="2.2" fill="#ff4048"/>
<circle cx="146.65" cy="216.56" r="2.4" fill="#ff3040"/>
<circle cx="153.49" cy="219.00" r="3" fill="#ff5060"/>
</g>
<g filter="url(#bl4)">
<path d="M74.21,212.65L138.51,212.65" stroke="#ff5a60" stroke-width="0.8"/>
<circle cx="141.77" cy="216.88" r="4" fill="none" stroke="#e83040" stroke-width="0.7"/>
<circle cx="82.35" cy="212.65" r="1.4" fill="#ffb0b0"/>
<circle cx="126.30" cy="212.65" r="1.2" fill="#ff9090"/>
<rect x="152.6" y="217" width="1.6" height="5" fill="#ffd8d8"/>
<path d="M71.77,221.12L83.98,231.53M74.21,187.26L74.21,236.09" stroke="#8c1820" stroke-width="0.6"/>
<path d="M92.12,203.53L92.12,219.00" stroke="#a01822" stroke-width="0.5"/>
<path d="M99.44,203.53L99.44,219.00" stroke="#a01822" stroke-width="0.5"/>
<path d="M104.65,203.53L104.65,219.00" stroke="#a01822" stroke-width="0.5"/>
<path d="M112.46,203.53L112.46,219.00" stroke="#a01822" stroke-width="0.5"/>
<path d="M118.98,203.53L118.98,219.00" stroke="#a01822" stroke-width="0.5"/>
<path d="M132.00,203.53L132.00,219.00" stroke="#a01822" stroke-width="0.5"/>
<circle cx="83.3" cy="189.9" r="0.49" fill="#c02430" opacity="0.76"/>
<circle cx="103.7" cy="210.8" r="0.31" fill="#c02430" opacity="0.64"/>
<circle cx="148.1" cy="227.3" r="0.59" fill="#c02430" opacity="0.45"/>
<circle cx="144.0" cy="227.6" r="0.37" fill="#c02430" opacity="0.72"/>
<circle cx="69.7" cy="194.3" r="0.43" fill="#c02430" opacity="0.48"/>
<circle cx="132.5" cy="225.8" r="0.44" fill="#c02430" opacity="0.56"/>
<circle cx="77.5" cy="192.8" r="0.59" fill="#c02430" opacity="0.70"/>
<circle cx="72.7" cy="210.6" r="0.46" fill="#c02430" opacity="0.82"/>
<circle cx="129.0" cy="216.1" r="0.52" fill="#c02430" opacity="0.87"/>
<circle cx="151.9" cy="204.2" r="0.40" fill="#c02430" opacity="0.80"/>
<circle cx="73.4" cy="205.4" r="0.33" fill="#c02430" opacity="0.56"/>
<circle cx="74.0" cy="202.1" r="0.62" fill="#c02430" opacity="0.85"/>
<circle cx="135.4" cy="214.3" r="0.55" fill="#c02430" opacity="0.58"/>
<circle cx="82.3" cy="208.6" r="0.59" fill="#c02430" opacity="0.43"/>
<circle cx="69.8" cy="223.7" r="0.42" fill="#c02430" opacity="0.75"/>
<circle cx="130.4" cy="231.0" r="0.46" fill="#c02430" opacity="0.58"/>
<circle cx="136.6" cy="223.4" r="0.56" fill="#c02430" opacity="0.81"/>
<circle cx="122.6" cy="232.1" r="0.43" fill="#c02430" opacity="0.77"/>
<circle cx="148.7" cy="204.0" r="0.54" fill="#c02430" opacity="0.58"/>
<circle cx="107.2" cy="192.4" r="0.31" fill="#c02430" opacity="0.78"/>
<circle cx="106.5" cy="217.0" r="0.60" fill="#c02430" opacity="0.61"/>
<circle cx="99.2" cy="196.6" r="0.62" fill="#c02430" opacity="0.82"/>
<circle cx="130.4" cy="228.4" r="0.56" fill="#c02430" opacity="0.75"/>
<circle cx="84.4" cy="223.5" r="0.43" fill="#c02430" opacity="0.62"/>
<circle cx="95.1" cy="214.6" r="0.56" fill="#c02430" opacity="0.69"/>
<circle cx="95.0" cy="198.8" r="0.64" fill="#c02430" opacity="0.55"/>
<circle cx="105.2" cy="193.1" r="0.42" fill="#c02430" opacity="0.44"/>
<circle cx="97.2" cy="220.9" r="0.69" fill="#c02430" opacity="0.71"/>
<circle cx="90.9" cy="218.6" r="0.55" fill="#c02430" opacity="0.81"/>
<circle cx="113.4" cy="230.0" r="0.47" fill="#c02430" opacity="0.54"/>
<circle cx="112.1" cy="230.5" r="0.59" fill="#c02430" opacity="0.65"/>
<circle cx="110.3" cy="218.2" r="0.48" fill="#c02430" opacity="0.68"/>
<circle cx="150.5" cy="231.0" r="0.64" fill="#c02430" opacity="0.46"/>
<circle cx="115.3" cy="205.5" r="0.66" fill="#c02430" opacity="0.56"/>
<circle cx="147.1" cy="199.7" r="0.47" fill="#c02430" opacity="0.88"/>
<circle cx="118.6" cy="230.9" r="0.52" fill="#c02430" opacity="0.51"/>
<circle cx="128.6" cy="212.5" r="0.50" fill="#c02430" opacity="0.47"/>
<circle cx="80.3" cy="230.8" r="0.68" fill="#c02430" opacity="0.88"/>
<circle cx="98.4" cy="191.1" r="0.52" fill="#c02430" opacity="0.77"/>
<circle cx="123.1" cy="191.4" r="0.39" fill="#c02430" opacity="0.75"/>
</g>
<path d="M78.28,208.42L81.53,202.88" stroke="#fff" stroke-width="0.8"/><polygon points="83.16,200.28 79.58,202.88 82.51,204.51" fill="#fff"/>
<path d="M141.77,210.05L138.84,205.16" stroke="#fff" stroke-width="0.8"/><polygon points="137.21,202.56 137.86,206.79 140.79,205.16" fill="#fff"/>
</g>
<text transform="translate(70.50,199.00) scale(0.975,1)" font-size="8.1" text-anchor="start" class="w">FP laser</text>
<text transform="translate(114.90,200.30) scale(0.975,1)" font-size="8.1" text-anchor="start" class="w">Microring</text>
<g clip-path="url(#cd2)">
<rect x="227" y="187" width="80" height="49" fill="#07481e"/>
<g filter="url(#bl5)">
<rect x="236" y="198" width="72" height="28" fill="#0d6a30"/>
<rect x="284" y="202" width="24" height="28" fill="#18a04c"/>
</g>
<g filter="url(#bl3)">
<path d="M233.39,205.16L287.10,205.16" stroke="#30e070" stroke-width="2.4"/>
<path d="M269.20,219.16L306.64,219.16" stroke="#40f080" stroke-width="2"/>
<circle cx="269.20" cy="219.16" r="2.6" fill="#80ffa8"/>
<circle cx="305.66" cy="218.51" r="4.5" fill="#c8ffd8"/>
<path d="M232.42,187.26L232.42,236.08" stroke="#30b858" stroke-width="2"/>
<path d="M287.10,208.41L305.82,218.99L290.36,232.83M291.99,203.53L305.82,218.99" stroke="#28c060" stroke-width="1.2" fill="none"/>
</g>
<g filter="url(#bl4)">
<polygon points="230.14,202.23 233.72,201.58 233.72,211.02 230.14,211.67" fill="#a88c3a"/>
<path d="M233.39,205.16L287.10,205.16" stroke="#70ffa0" stroke-width="0.8"/>
<circle cx="262.69" cy="213.30" r="6.6" fill="none" stroke="#40e880" stroke-width="0.8"/>
<circle cx="270.83" cy="208.41" r="3" fill="none" stroke="#40e880" stroke-width="0.6"/>
<path d="M261.88,194.09L289.55,194.09" stroke="#ff8cb4" stroke-width="1.0"/>
<path d="M262.69,202.23L288.73,202.23M270.83,221.11L287.10,221.11" stroke="#c8a850" stroke-width="0.7"/>
<path d="M262.69,200.28L287.10,200.28" stroke="#58d080" stroke-width="0.5"/>
<path d="M269.20,219.16L306.64,219.16" stroke="#a8ffc8" stroke-width="0.9"/>
<path d="M265.13,214.92L273.27,223.06M273.27,214.92L265.13,223.06M269.20,213.30L269.20,224.69" stroke="#80ffb0" stroke-width="0.5"/>
<circle cx="233.2" cy="227.1" r="0.60" fill="#50e080" opacity="0.52"/>
<circle cx="233.1" cy="233.1" r="0.53" fill="#50e080" opacity="0.63"/>
<circle cx="265.3" cy="230.2" r="0.41" fill="#50e080" opacity="0.43"/>
<circle cx="275.7" cy="203.1" r="0.50" fill="#50e080" opacity="0.87"/>
<circle cx="256.4" cy="200.1" r="0.32" fill="#50e080" opacity="0.82"/>
<circle cx="235.0" cy="231.8" r="0.51" fill="#50e080" opacity="0.86"/>
<circle cx="290.9" cy="197.6" r="0.35" fill="#50e080" opacity="0.88"/>
<circle cx="251.1" cy="224.6" r="0.35" fill="#50e080" opacity="0.55"/>
<circle cx="280.2" cy="200.2" r="0.53" fill="#50e080" opacity="0.84"/>
<circle cx="253.3" cy="202.4" r="0.31" fill="#50e080" opacity="0.61"/>
<circle cx="234.0" cy="214.9" r="0.51" fill="#50e080" opacity="0.68"/>
<circle cx="274.9" cy="216.0" r="0.57" fill="#50e080" opacity="0.67"/>
<circle cx="294.5" cy="204.8" r="0.34" fill="#50e080" opacity="0.51"/>
<circle cx="289.3" cy="199.3" r="0.53" fill="#50e080" opacity="0.85"/>
<circle cx="270.4" cy="195.4" r="0.49" fill="#50e080" opacity="0.59"/>
<circle cx="298.0" cy="199.1" r="0.37" fill="#50e080" opacity="0.64"/>
<circle cx="266.5" cy="197.4" r="0.41" fill="#50e080" opacity="0.73"/>
<circle cx="264.8" cy="191.7" r="0.42" fill="#50e080" opacity="0.61"/>
<circle cx="263.0" cy="190.1" r="0.38" fill="#50e080" opacity="0.88"/>
<circle cx="296.1" cy="231.3" r="0.53" fill="#50e080" opacity="0.62"/>
<circle cx="300.3" cy="202.5" r="0.48" fill="#50e080" opacity="0.69"/>
<circle cx="262.5" cy="200.3" r="0.40" fill="#50e080" opacity="0.72"/>
<circle cx="250.6" cy="204.6" r="0.41" fill="#50e080" opacity="0.56"/>
<circle cx="292.0" cy="213.6" r="0.31" fill="#50e080" opacity="0.77"/>
<circle cx="267.2" cy="224.1" r="0.45" fill="#50e080" opacity="0.56"/>
<circle cx="292.8" cy="196.8" r="0.38" fill="#50e080" opacity="0.64"/>
<circle cx="294.4" cy="194.2" r="0.40" fill="#50e080" opacity="0.67"/>
<circle cx="280.6" cy="193.7" r="0.53" fill="#50e080" opacity="0.68"/>
<circle cx="268.3" cy="206.1" r="0.39" fill="#50e080" opacity="0.85"/>
<circle cx="304.5" cy="196.9" r="0.36" fill="#50e080" opacity="0.73"/>
<circle cx="287.1" cy="226.0" r="0.39" fill="#50e080" opacity="0.50"/>
<circle cx="234.5" cy="205.9" r="0.47" fill="#50e080" opacity="0.84"/>
<circle cx="231.5" cy="193.0" r="0.50" fill="#50e080" opacity="0.74"/>
<circle cx="238.4" cy="193.3" r="0.31" fill="#50e080" opacity="0.72"/>
<circle cx="250.3" cy="199.8" r="0.50" fill="#50e080" opacity="0.46"/>
<circle cx="269.8" cy="193.1" r="0.32" fill="#50e080" opacity="0.73"/>
<circle cx="289.2" cy="209.8" r="0.42" fill="#50e080" opacity="0.75"/>
<circle cx="234.8" cy="201.5" r="0.57" fill="#50e080" opacity="0.87"/>
<circle cx="231.9" cy="189.1" r="0.53" fill="#50e080" opacity="0.63"/>
<circle cx="286.9" cy="217.9" r="0.43" fill="#50e080" opacity="0.75"/>
</g>
<path d="M232.09,203.53L234.37,199.62" stroke="#fff" stroke-width="0.8"/><polygon points="235.67,197.35 232.74,199.62 235.35,201.25" fill="#fff"/>
</g>
<text transform="translate(232.60,196.70) scale(0.975,1)" font-size="8.1" text-anchor="start" class="w">FP laser</text>
<text transform="translate(247.20,230.90) scale(0.975,1)" font-size="8.1" text-anchor="start" class="w">Microring</text>
<g clip-path="url(#cd3)">
<rect x="380" y="186" width="81" height="49" fill="#050a3e"/>
<g filter="url(#bl5)">
<rect x="386" y="201" width="75" height="15" fill="#0a1a80"/>
<rect x="380" y="186" width="8" height="50" fill="#2858e0"/>
<rect x="455" y="196" width="6" height="40" fill="#2050e0"/>
</g>
<g filter="url(#bl3)">
<path d="M388.83,206.79L451.50,206.79" stroke="#3070ff" stroke-width="2"/>
<path d="M458.01,193.77L458.01,232.83" stroke="#3868f0" stroke-width="2"/>
<path d="M384.77,187.26L384.77,232.83" stroke="#3868e8" stroke-width="2.4"/>
</g>
<g filter="url(#bl4)">
<polygon points="382.81,206.79 386.72,204.18 387.70,208.41 385.74,213.30 383.14,211.99" fill="#e08838"/>
<path d="M388.83,206.79L450.68,206.79" stroke="#78a8ff" stroke-width="0.9"/>
<ellipse cx="437.66" cy="214.92" rx="5.9" ry="5.5" fill="none" stroke="#3c8cff" stroke-width="1.1"/>
<circle cx="447.92" cy="210.86" r="2.4" fill="none" stroke="#3880ff" stroke-width="0.6"/>
<path d="M427.08,222.41L456.38,222.41" stroke="#5080e0" stroke-width="0.6"/>
<path d="M436.85,197.35L456.38,197.35M440.10,199.30L457.19,199.30" stroke="#c8b860" stroke-width="0.6"/>
<path d="M437.66,224.69L444.17,224.69" stroke="#90a050" stroke-width="0.6"/>
<rect x="456.87" y="225.02" width="1.6" height="5.4" fill="#f0f0ff"/>
<circle cx="428.3" cy="188.7" r="0.56" fill="#4870ff" opacity="0.79"/>
<circle cx="432.1" cy="215.3" r="0.39" fill="#4870ff" opacity="0.60"/>
<circle cx="430.3" cy="224.1" r="0.35" fill="#4870ff" opacity="0.54"/>
<circle cx="415.9" cy="192.3" r="0.57" fill="#4870ff" opacity="0.57"/>
<circle cx="454.7" cy="206.5" r="0.59" fill="#4870ff" opacity="0.76"/>
<circle cx="420.9" cy="221.2" r="0.52" fill="#4870ff" opacity="0.51"/>
<circle cx="388.8" cy="214.4" r="0.44" fill="#4870ff" opacity="0.46"/>
<circle cx="453.1" cy="192.9" r="0.40" fill="#4870ff" opacity="0.54"/>
<circle cx="453.5" cy="230.3" r="0.59" fill="#4870ff" opacity="0.49"/>
<circle cx="447.2" cy="215.2" r="0.48" fill="#4870ff" opacity="0.45"/>
<circle cx="442.4" cy="216.2" r="0.37" fill="#d0c060" opacity="0.55"/>
<circle cx="418.5" cy="198.1" r="0.47" fill="#4870ff" opacity="0.47"/>
<circle cx="439.5" cy="207.8" r="0.47" fill="#4870ff" opacity="0.48"/>
<circle cx="449.9" cy="193.1" r="0.59" fill="#4870ff" opacity="0.47"/>
<circle cx="435.4" cy="230.9" r="0.40" fill="#4870ff" opacity="0.71"/>
<circle cx="453.7" cy="215.5" r="0.51" fill="#4870ff" opacity="0.42"/>
<circle cx="408.9" cy="227.3" r="0.43" fill="#4870ff" opacity="0.55"/>
<circle cx="395.0" cy="217.4" r="0.56" fill="#4870ff" opacity="0.42"/>
<circle cx="448.6" cy="192.1" r="0.44" fill="#4870ff" opacity="0.77"/>
<circle cx="416.8" cy="195.0" r="0.49" fill="#4870ff" opacity="0.51"/>
<circle cx="427.7" cy="197.2" r="0.48" fill="#4870ff" opacity="0.71"/>
<circle cx="391.1" cy="196.5" r="0.45" fill="#4870ff" opacity="0.83"/>
<circle cx="426.3" cy="223.7" r="0.36" fill="#4870ff" opacity="0.54"/>
<circle cx="384.9" cy="204.0" r="0.55" fill="#4870ff" opacity="0.52"/>
<circle cx="435.9" cy="221.1" r="0.59" fill="#4870ff" opacity="0.69"/>
<circle cx="416.3" cy="211.6" r="0.30" fill="#d0c060" opacity="0.65"/>
<circle cx="411.2" cy="193.9" r="0.49" fill="#4870ff" opacity="0.66"/>
<circle cx="412.7" cy="221.9" r="0.57" fill="#d0c060" opacity="0.74"/>
<circle cx="414.5" cy="218.4" r="0.50" fill="#4870ff" opacity="0.73"/>
<circle cx="435.7" cy="228.3" r="0.38" fill="#4870ff" opacity="0.41"/>
<circle cx="403.8" cy="204.0" r="0.44" fill="#d0c060" opacity="0.87"/>
<circle cx="397.2" cy="204.8" r="0.34" fill="#4870ff" opacity="0.58"/>
<circle cx="424.3" cy="221.9" r="0.38" fill="#4870ff" opacity="0.88"/>
<circle cx="415.6" cy="193.8" r="0.43" fill="#d0c060" opacity="0.81"/>
<circle cx="388.2" cy="197.6" r="0.55" fill="#4870ff" opacity="0.50"/>
<circle cx="387.2" cy="216.8" r="0.31" fill="#4870ff" opacity="0.66"/>
<circle cx="393.6" cy="214.4" r="0.34" fill="#d0c060" opacity="0.67"/>
<circle cx="454.0" cy="189.3" r="0.36" fill="#d0c060" opacity="0.81"/>
<circle cx="401.0" cy="200.0" r="0.56" fill="#4870ff" opacity="0.54"/>
<circle cx="418.4" cy="208.9" r="0.43" fill="#4870ff" opacity="0.80"/>
<circle cx="398.0" cy="210.2" r="0.56" fill="#d0c060" opacity="0.61"/>
<circle cx="457.9" cy="217.2" r="0.58" fill="#d0c060" opacity="0.55"/>
<circle cx="430.9" cy="221.7" r="0.36" fill="#d0c060" opacity="0.61"/>
<circle cx="409.9" cy="201.9" r="0.41" fill="#4870ff" opacity="0.89"/>
<circle cx="417.4" cy="208.1" r="0.36" fill="#4870ff" opacity="0.53"/>
<circle cx="449.4" cy="227.0" r="0.42" fill="#d0c060" opacity="0.69"/>
<circle cx="424.5" cy="196.9" r="0.54" fill="#d0c060" opacity="0.46"/>
<circle cx="412.8" cy="221.5" r="0.42" fill="#4870ff" opacity="0.80"/>
<circle cx="457.5" cy="209.1" r="0.46" fill="#4870ff" opacity="0.59"/>
<circle cx="457.2" cy="222.0" r="0.46" fill="#d0c060" opacity="0.59"/>
<circle cx="420.2" cy="221.3" r="0.48" fill="#4870ff" opacity="0.52"/>
<circle cx="416.2" cy="227.1" r="0.41" fill="#4870ff" opacity="0.54"/>
<circle cx="428.2" cy="208.9" r="0.39" fill="#4870ff" opacity="0.86"/>
<circle cx="400.6" cy="223.3" r="0.36" fill="#4870ff" opacity="0.62"/>
<circle cx="436.3" cy="206.1" r="0.53" fill="#d0c060" opacity="0.64"/>
<circle cx="396.8" cy="190.3" r="0.39" fill="#4870ff" opacity="0.81"/>
<circle cx="394.8" cy="188.7" r="0.43" fill="#4870ff" opacity="0.83"/>
<circle cx="425.8" cy="226.8" r="0.33" fill="#4870ff" opacity="0.54"/>
<circle cx="396.7" cy="230.1" r="0.58" fill="#4870ff" opacity="0.89"/>
<circle cx="442.4" cy="226.5" r="0.48" fill="#4870ff" opacity="0.81"/>
</g>
<path d="M388.67,206.79L390.62,202.88" stroke="#fff" stroke-width="0.8"/><polygon points="391.93,200.28 389.00,202.88 391.60,204.51" fill="#fff"/>
</g>
<text transform="translate(388.80,198.30) scale(0.975,1)" font-size="8.1" text-anchor="start" class="w">FP laser</text>
<text transform="translate(401.90,230.90) scale(0.975,1)" font-size="8.1" text-anchor="start" class="w">Microring</text>
</g>
<g id="pe">
<line x1="523.20" y1="183.00" x2="523.20" y2="313.20" stroke="#444" stroke-width="0.6" />
<line x1="523.20" y1="313.20" x2="670.00" y2="313.20" stroke="#444" stroke-width="0.6" />
<line x1="523.20" y1="298.80" x2="526.20" y2="298.80" stroke="#444" stroke-width="0.6" />
<text transform="translate(520.60,302.30) scale(0.975,1)" font-size="8.1" text-anchor="end" >10<tspan dy="-3.0" font-size="5.1">1</tspan></text>
<line x1="523.20" y1="279.50" x2="526.20" y2="279.50" stroke="#444" stroke-width="0.6" />
<text transform="translate(520.60,283.00) scale(0.975,1)" font-size="8.1" text-anchor="end" >10<tspan dy="-3.0" font-size="5.1">2</tspan></text>
<line x1="523.20" y1="260.20" x2="526.20" y2="260.20" stroke="#444" stroke-width="0.6" />
<text transform="translate(520.60,263.70) scale(0.975,1)" font-size="8.1" text-anchor="end" >10<tspan dy="-3.0" font-size="5.1">3</tspan></text>
<line x1="523.20" y1="240.90" x2="526.20" y2="240.90" stroke="#444" stroke-width="0.6" />
<text transform="translate(520.60,244.40) scale(0.975,1)" font-size="8.1" text-anchor="end" >10<tspan dy="-3.0" font-size="5.1">4</tspan></text>
<line x1="523.20" y1="221.60" x2="526.20" y2="221.60" stroke="#444" stroke-width="0.6" />
<text transform="translate(520.60,225.10) scale(0.975,1)" font-size="8.1" text-anchor="end" >10<tspan dy="-3.0" font-size="5.1">5</tspan></text>
<line x1="523.20" y1="202.30" x2="526.20" y2="202.30" stroke="#444" stroke-width="0.6" />
<text transform="translate(520.60,205.80) scale(0.975,1)" font-size="8.1" text-anchor="end" >10<tspan dy="-3.0" font-size="5.1">6</tspan></text>
<line x1="523.20" y1="183.00" x2="526.20" y2="183.00" stroke="#444" stroke-width="0.6" />
<text transform="translate(520.60,186.50) scale(0.975,1)" font-size="8.1" text-anchor="end" >10<tspan dy="-3.0" font-size="5.1">7</tspan></text>
<line x1="535.00" y1="313.20" x2="535.00" y2="310.20" stroke="#444" stroke-width="0.6" />
<text transform="translate(535.00,323.60) scale(0.975,1)" font-size="8.1" text-anchor="middle" >450</text>
<line x1="565.68" y1="313.20" x2="565.68" y2="310.20" stroke="#444" stroke-width="0.6" />
<text transform="translate(565.68,323.60) scale(0.975,1)" font-size="8.1" text-anchor="middle" >500</text>
<line x1="596.36" y1="313.20" x2="596.36" y2="310.20" stroke="#444" stroke-width="0.6" />
<text transform="translate(596.36,323.60) scale(0.975,1)" font-size="8.1" text-anchor="middle" >550</text>
<line x1="627.04" y1="313.20" x2="627.04" y2="310.20" stroke="#444" stroke-width="0.6" />
<text transform="translate(627.04,323.60) scale(0.975,1)" font-size="8.1" text-anchor="middle" >600</text>
<line x1="657.72" y1="313.20" x2="657.72" y2="310.20" stroke="#444" stroke-width="0.6" />
<text transform="translate(657.72,323.60) scale(0.975,1)" font-size="8.1" text-anchor="middle" >650</text>
<text transform="translate(596.20,334.40) scale(0.975,1)" font-size="8.1" text-anchor="middle" >Wavelength (nm)</text>
<text transform="translate(501,248.0) rotate(-90) scale(0.975,1)" font-size="8.1" text-anchor="middle" style="fill:#444;stroke:#444">Fundamental linewidth (Hz)</text>
<circle cx="542.1" cy="201.5" r="2.7" fill="#1f6fc4"/>
<text transform="translate(550.00,204.40) scale(0.975,1)" font-size="8.1" text-anchor="start" >Si<tspan dy="2" font-size="5.2">3</tspan><tspan dy="-2">N</tspan><tspan dy="2" font-size="5.2">4</tspan><tspan dy="-2">, ref. 30</tspan></text>
<polyline points="537.80,242.20 558.00,243.20 578.00,233.20 663.70,241.00" fill="none" stroke="#58b088" stroke-width="1.1" stroke-linejoin="round" stroke-dasharray="2.4 1.9"/>
<circle cx="537.8" cy="242.2" r="2.7" fill="#58b088"/>
<circle cx="558" cy="243.2" r="2.7" fill="#58b088"/>
<circle cx="578" cy="233.2" r="2.7" fill="#58b088"/>
<circle cx="663.7" cy="241" r="2.7" fill="#58b088"/>
<text transform="translate(602.00,230.80) scale(0.975,1)" font-size="8.1" text-anchor="start" >Si<tspan dy="2" font-size="5.2">3</tspan><tspan dy="-2">N</tspan><tspan dy="2" font-size="5.2">4</tspan><tspan dy="-2">, ref. 31</tspan></text>
<polyline points="530.80,281.60 572.80,298.40 646.40,296.40" fill="none" stroke="#d42a3c" stroke-width="1.1" stroke-linejoin="round" stroke-dasharray="2.4 1.9"/>
<polygon points="530.80,277.80 531.74,280.31 534.41,280.43 532.32,282.09 533.03,284.67 530.80,283.20 528.57,284.67 529.28,282.09 527.19,280.43 529.86,280.31" fill="#c8203a"/>
<polygon points="572.80,294.60 573.74,297.11 576.41,297.23 574.32,298.89 575.03,301.47 572.80,300.00 570.57,301.47 571.28,298.89 569.19,297.23 571.86,297.11" fill="#c8203a"/>
<polygon points="646.40,292.60 647.34,295.11 650.01,295.23 647.92,296.89 648.63,299.47 646.40,298.00 644.17,299.47 644.88,296.89 642.79,295.23 645.46,295.11" fill="#c8203a"/>
<line x1="537.80" y1="245.50" x2="537.80" y2="277.30" stroke="#a0a0a0" stroke-width="0.9" />
<path d="M537.8 280.2l-1.7 -3.6h3.4z" fill="#909090"/>
<line x1="535.60" y1="280.60" x2="540.00" y2="280.60" stroke="#909090" stroke-width="0.7" />
<text transform="translate(543.80,267.60) scale(0.975,1)" font-size="8.1" text-anchor="start" >20 dB</text>
<text transform="translate(574.90,286.80) scale(0.975,1)" font-size="8.1" text-anchor="start" >Ge:silica, this work</text>
</g>
<text transform="translate(-0.5,7.7) scale(1.12,1)" font-size="9.9" font-weight="bold" style="stroke:#000;stroke-width:0.4px">a</text>
<text transform="translate(216.2,7.6) scale(1.12,1)" font-size="9.9" font-weight="bold" style="stroke:#000;stroke-width:0.4px">b</text>
<text transform="translate(452,7.6) scale(1.12,1)" font-size="9.9" font-weight="bold" style="stroke:#000;stroke-width:0.4px">c</text>
<text transform="translate(0,180.6) scale(1.12,1)" font-size="9.9" font-weight="bold" style="stroke:#000;stroke-width:0.4px">d</text>
<text transform="translate(495,180.6) scale(1.12,1)" font-size="9.9" font-weight="bold" style="stroke:#000;stroke-width:0.4px">e</text>
</svg></body></html>
